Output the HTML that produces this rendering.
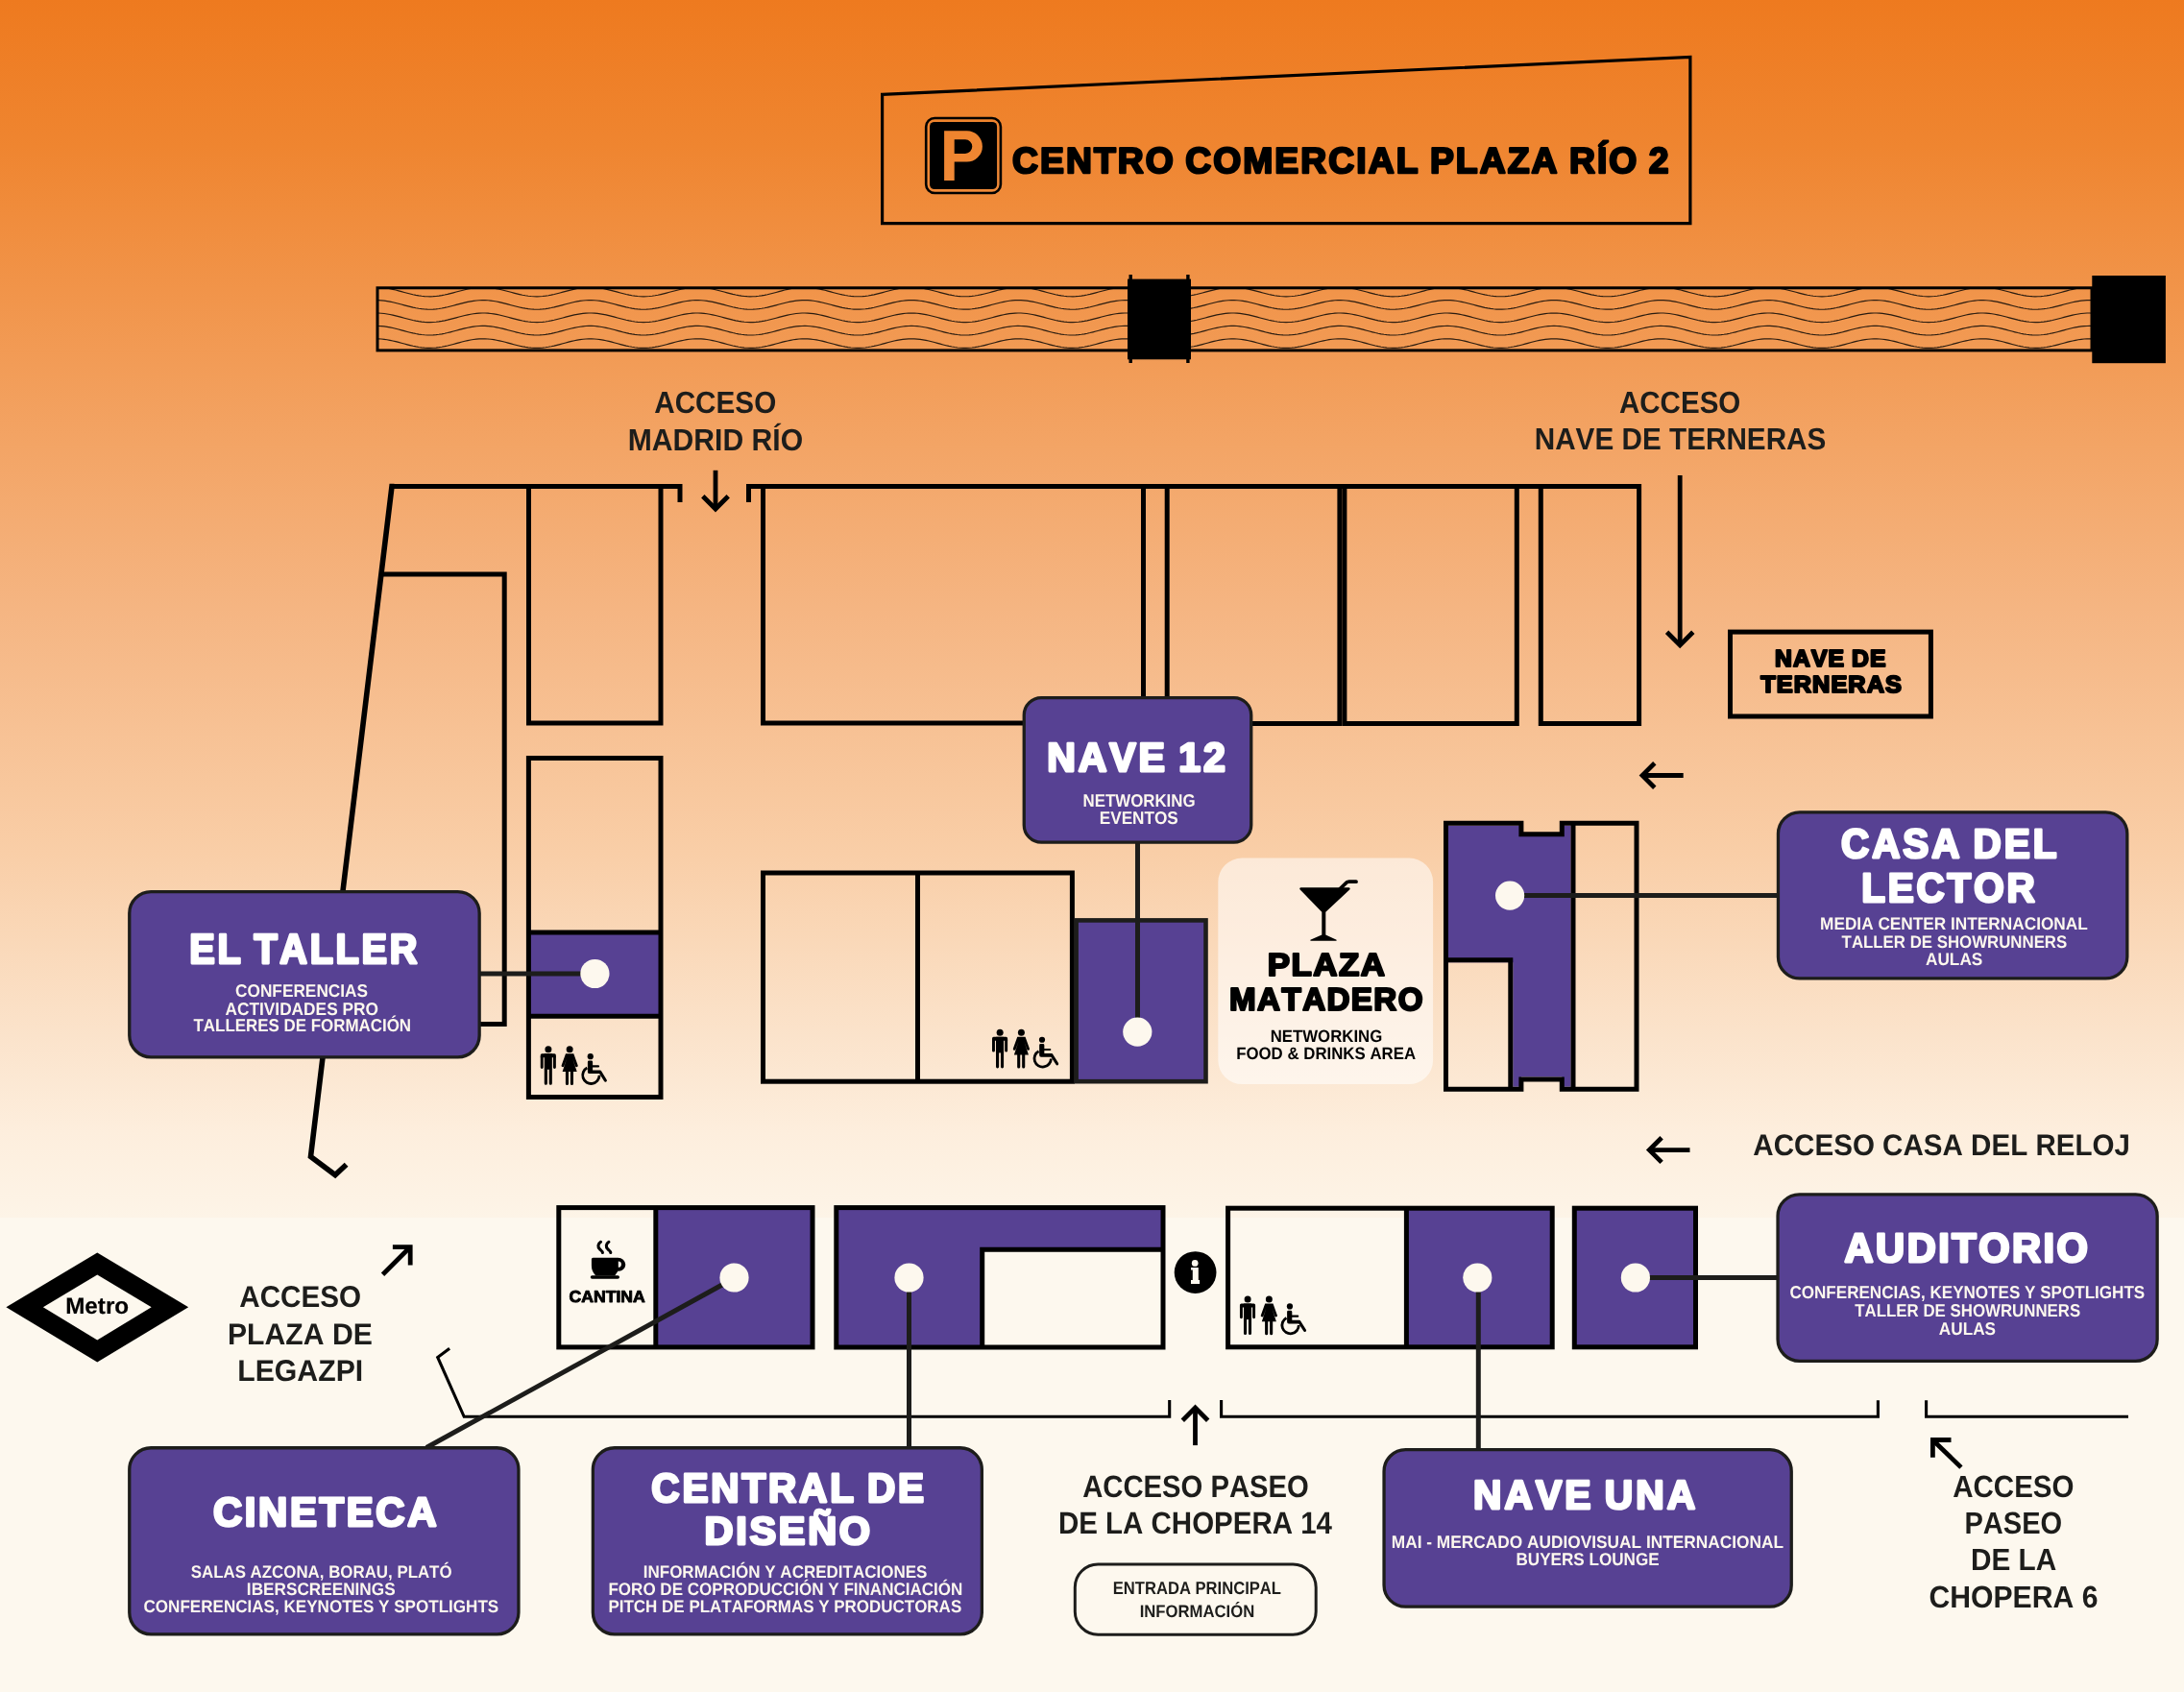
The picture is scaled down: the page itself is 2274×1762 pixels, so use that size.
<!DOCTYPE html>
<html><head><meta charset="utf-8"><title>Mapa Matadero</title>
<style>
html,body{margin:0;padding:0;background:#FDF8EE;}
body{width:2274px;height:1762px;overflow:hidden;}
svg{display:block;will-change:transform;}
text{font-family:"Liberation Sans",sans-serif;font-weight:700;font-kerning:none;text-rendering:geometricPrecision;}
</style></head><body>
<svg width="2274" height="1762" viewBox="0 0 2274 1762">
<defs>
<linearGradient id="bg" gradientUnits="userSpaceOnUse" x1="0" y1="0" x2="0" y2="1268">
<stop offset="0" stop-color="#EE7A1F"/>
<stop offset="0.12" stop-color="#EF8530"/>
<stop offset="0.30" stop-color="#F29C57"/>
<stop offset="0.50" stop-color="#F5B582"/>
<stop offset="0.70" stop-color="#F9CEA7"/>
<stop offset="0.85" stop-color="#FBE3CB"/>
<stop offset="0.93" stop-color="#FDEEDD"/>
<stop offset="1" stop-color="#FDF4E7"/>
</linearGradient>
</defs>
<rect x="0" y="0" width="2274" height="1762" fill="#FDF8EE"/>
<rect x="0" y="0" width="2274" height="1268" fill="url(#bg)"/>

<polygon points="918.6,98.4 1759.9,59.4 1759.9,232.6 918.6,232.6" fill="none" stroke="#000000" stroke-width="3.2" stroke-linejoin="miter"/>
<rect x="964.2" y="123" width="77.7" height="78" rx="9" fill="none" stroke="#000000" stroke-width="2.6"/>
<rect x="968" y="126.9" width="70.1" height="70.2" rx="5" fill="#000000"/>
<path fill="url(#bg)" fill-rule="evenodd" d="M983.1,188 V136.3 H1006.75 A16.15,16.15 0 0 1 1006.75,168.6 H993.7 V188 Z M993.7,145.3 H1005 A7.3,7.3 0 0 1 1005,159.9 H993.7 Z"/>
<text transform="translate(1053.97,179.80) scale(0.9905,1)" font-size="37.65" fill="#000000" stroke="#000000" stroke-width="2.40" stroke-linejoin="round" vector-effect="non-scaling-stroke" letter-spacing="2.091" word-spacing="-2.091">CENTRO COMERCIAL PLAZA RÍO 2</text>
<clipPath id="rc"><rect x="393.0" y="299.8" width="1785.0" height="65.09999999999997"/></clipPath>
<g clip-path="url(#rc)" fill="none" stroke="#2a1c10" stroke-width="1.15">
<polyline points="388.0,299.29 391.0,299.20 394.0,299.25 397.0,299.43 400.0,299.74 403.0,300.17 406.0,300.72 409.0,301.35 412.0,302.06 415.0,302.83 418.0,303.63 421.0,304.44 424.0,305.24 427.0,306.00 430.0,306.71 433.0,307.33 436.0,307.87 439.0,308.29 442.0,308.59 445.0,308.76 448.0,308.80 451.0,308.69 454.0,308.46 457.0,308.09 460.0,307.61 463.0,307.03 466.0,306.36 469.0,305.62 472.0,304.84 475.0,304.03 478.0,303.23 481.0,302.44 484.0,301.70 487.0,301.02 490.0,300.43 493.0,299.94 496.0,299.57 499.0,299.32 502.0,299.21 505.0,299.23 508.0,299.39 511.0,299.68 514.0,300.09 517.0,300.62 520.0,301.24 523.0,301.94 526.0,302.70 529.0,303.49 532.0,304.30 535.0,305.11 538.0,305.88 541.0,306.59 544.0,307.24 547.0,307.79 550.0,308.23 553.0,308.55 556.0,308.74 559.0,308.80 562.0,308.72 565.0,308.51 568.0,308.16 571.0,307.70 574.0,307.13 577.0,306.48 580.0,305.75 583.0,304.97 586.0,304.17 589.0,303.36 592.0,302.57 595.0,301.82 598.0,301.13 601.0,300.52 604.0,300.02 607.0,299.62 610.0,299.35 613.0,299.22 616.0,299.22 619.0,299.35 622.0,299.62 625.0,300.02 628.0,300.52 631.0,301.13 634.0,301.82 637.0,302.57 640.0,303.36 643.0,304.17 646.0,304.97 649.0,305.75 652.0,306.48 655.0,307.13 658.0,307.70 661.0,308.16 664.0,308.51 667.0,308.72 670.0,308.80 673.0,308.74 676.0,308.55 679.0,308.23 682.0,307.79 685.0,307.24 688.0,306.59 691.0,305.88 694.0,305.11 697.0,304.30 700.0,303.49 703.0,302.70 706.0,301.94 709.0,301.24 712.0,300.62 715.0,300.09 718.0,299.68 721.0,299.39 724.0,299.23 727.0,299.21 730.0,299.32 733.0,299.57 736.0,299.94 739.0,300.43 742.0,301.02 745.0,301.70 748.0,302.44 751.0,303.23 754.0,304.03 757.0,304.84 760.0,305.62 763.0,306.36 766.0,307.03 769.0,307.61 772.0,308.09 775.0,308.46 778.0,308.69 781.0,308.80 784.0,308.76 787.0,308.59 790.0,308.29 793.0,307.87 796.0,307.33 799.0,306.71 802.0,306.00 805.0,305.24 808.0,304.44 811.0,303.63 814.0,302.83 817.0,302.06 820.0,301.35 823.0,300.72 826.0,300.17 829.0,299.74 832.0,299.43 835.0,299.25 838.0,299.20 841.0,299.29 844.0,299.52 847.0,299.87 850.0,300.34 853.0,300.92 856.0,301.58 859.0,302.31 862.0,303.09 865.0,303.90 868.0,304.71 871.0,305.50 874.0,306.24 877.0,306.92 880.0,307.52 883.0,308.02 886.0,308.40 889.0,308.66 892.0,308.79 895.0,308.78 898.0,308.63 901.0,308.35 904.0,307.95 907.0,307.43 910.0,306.82 913.0,306.12 916.0,305.37 919.0,304.57 922.0,303.76 925.0,302.96 928.0,302.19 931.0,301.46 934.0,300.82 937.0,300.26 940.0,299.80 943.0,299.47 946.0,299.27 949.0,299.20 952.0,299.27 955.0,299.47 958.0,299.80 961.0,300.26 964.0,300.82 967.0,301.46 970.0,302.19 973.0,302.96 976.0,303.76 979.0,304.57 982.0,305.37 985.0,306.12 988.0,306.82 991.0,307.43 994.0,307.95 997.0,308.35 1000.0,308.63 1003.0,308.78 1006.0,308.79 1009.0,308.66 1012.0,308.40 1015.0,308.02 1018.0,307.52 1021.0,306.92 1024.0,306.24 1027.0,305.50 1030.0,304.71 1033.0,303.90 1036.0,303.09 1039.0,302.31 1042.0,301.58 1045.0,300.92 1048.0,300.34 1051.0,299.87 1054.0,299.52 1057.0,299.29 1060.0,299.20 1063.0,299.25 1066.0,299.43 1069.0,299.74 1072.0,300.17 1075.0,300.72 1078.0,301.35 1081.0,302.06 1084.0,302.83 1087.0,303.63 1090.0,304.44 1093.0,305.24 1096.0,306.00 1099.0,306.71 1102.0,307.33 1105.0,307.87 1108.0,308.29 1111.0,308.59 1114.0,308.76 1117.0,308.80 1120.0,308.69 1123.0,308.46 1126.0,308.09 1129.0,307.61 1132.0,307.03 1135.0,306.36 1138.0,305.62 1141.0,304.84 1144.0,304.03 1147.0,303.23 1150.0,302.44 1153.0,301.70 1156.0,301.02 1159.0,300.43 1162.0,299.94 1165.0,299.57 1168.0,299.32 1171.0,299.21 1174.0,299.23 1177.0,299.39 1180.0,299.68 1183.0,300.09 1186.0,300.62 1189.0,301.24 1192.0,301.94 1195.0,302.70 1198.0,303.49 1201.0,304.30 1204.0,305.11 1207.0,305.88 1210.0,306.59 1213.0,307.24 1216.0,307.79 1219.0,308.23 1222.0,308.55 1225.0,308.74 1228.0,308.80 1231.0,308.72 1234.0,308.51 1237.0,308.16 1240.0,307.70 1243.0,307.13 1246.0,306.48 1249.0,305.75 1252.0,304.97 1255.0,304.17 1258.0,303.36 1261.0,302.57 1264.0,301.82 1267.0,301.13 1270.0,300.52 1273.0,300.02 1276.0,299.62 1279.0,299.35 1282.0,299.22 1285.0,299.22 1288.0,299.35 1291.0,299.62 1294.0,300.02 1297.0,300.52 1300.0,301.13 1303.0,301.82 1306.0,302.57 1309.0,303.36 1312.0,304.17 1315.0,304.97 1318.0,305.75 1321.0,306.48 1324.0,307.13 1327.0,307.70 1330.0,308.16 1333.0,308.51 1336.0,308.72 1339.0,308.80 1342.0,308.74 1345.0,308.55 1348.0,308.23 1351.0,307.79 1354.0,307.24 1357.0,306.59 1360.0,305.88 1363.0,305.11 1366.0,304.30 1369.0,303.49 1372.0,302.70 1375.0,301.94 1378.0,301.24 1381.0,300.62 1384.0,300.09 1387.0,299.68 1390.0,299.39 1393.0,299.23 1396.0,299.21 1399.0,299.32 1402.0,299.57 1405.0,299.94 1408.0,300.43 1411.0,301.02 1414.0,301.70 1417.0,302.44 1420.0,303.23 1423.0,304.03 1426.0,304.84 1429.0,305.62 1432.0,306.36 1435.0,307.03 1438.0,307.61 1441.0,308.09 1444.0,308.46 1447.0,308.69 1450.0,308.80 1453.0,308.76 1456.0,308.59 1459.0,308.29 1462.0,307.87 1465.0,307.33 1468.0,306.71 1471.0,306.00 1474.0,305.24 1477.0,304.44 1480.0,303.63 1483.0,302.83 1486.0,302.06 1489.0,301.35 1492.0,300.72 1495.0,300.17 1498.0,299.74 1501.0,299.43 1504.0,299.25 1507.0,299.20 1510.0,299.29 1513.0,299.52 1516.0,299.87 1519.0,300.34 1522.0,300.92 1525.0,301.58 1528.0,302.31 1531.0,303.09 1534.0,303.90 1537.0,304.71 1540.0,305.50 1543.0,306.24 1546.0,306.92 1549.0,307.52 1552.0,308.02 1555.0,308.40 1558.0,308.66 1561.0,308.79 1564.0,308.78 1567.0,308.63 1570.0,308.35 1573.0,307.95 1576.0,307.43 1579.0,306.82 1582.0,306.12 1585.0,305.37 1588.0,304.57 1591.0,303.76 1594.0,302.96 1597.0,302.19 1600.0,301.46 1603.0,300.82 1606.0,300.26 1609.0,299.80 1612.0,299.47 1615.0,299.27 1618.0,299.20 1621.0,299.27 1624.0,299.47 1627.0,299.80 1630.0,300.26 1633.0,300.82 1636.0,301.46 1639.0,302.19 1642.0,302.96 1645.0,303.76 1648.0,304.57 1651.0,305.37 1654.0,306.12 1657.0,306.82 1660.0,307.43 1663.0,307.95 1666.0,308.35 1669.0,308.63 1672.0,308.78 1675.0,308.79 1678.0,308.66 1681.0,308.40 1684.0,308.02 1687.0,307.52 1690.0,306.92 1693.0,306.24 1696.0,305.50 1699.0,304.71 1702.0,303.90 1705.0,303.09 1708.0,302.31 1711.0,301.58 1714.0,300.92 1717.0,300.34 1720.0,299.87 1723.0,299.52 1726.0,299.29 1729.0,299.20 1732.0,299.25 1735.0,299.43 1738.0,299.74 1741.0,300.17 1744.0,300.72 1747.0,301.35 1750.0,302.06 1753.0,302.83 1756.0,303.63 1759.0,304.44 1762.0,305.24 1765.0,306.00 1768.0,306.71 1771.0,307.33 1774.0,307.87 1777.0,308.29 1780.0,308.59 1783.0,308.76 1786.0,308.80 1789.0,308.69 1792.0,308.46 1795.0,308.09 1798.0,307.61 1801.0,307.03 1804.0,306.36 1807.0,305.62 1810.0,304.84 1813.0,304.03 1816.0,303.23 1819.0,302.44 1822.0,301.70 1825.0,301.02 1828.0,300.43 1831.0,299.94 1834.0,299.57 1837.0,299.32 1840.0,299.21 1843.0,299.23 1846.0,299.39 1849.0,299.68 1852.0,300.09 1855.0,300.62 1858.0,301.24 1861.0,301.94 1864.0,302.70 1867.0,303.49 1870.0,304.30 1873.0,305.11 1876.0,305.88 1879.0,306.59 1882.0,307.24 1885.0,307.79 1888.0,308.23 1891.0,308.55 1894.0,308.74 1897.0,308.80 1900.0,308.72 1903.0,308.51 1906.0,308.16 1909.0,307.70 1912.0,307.13 1915.0,306.48 1918.0,305.75 1921.0,304.97 1924.0,304.17 1927.0,303.36 1930.0,302.57 1933.0,301.82 1936.0,301.13 1939.0,300.52 1942.0,300.02 1945.0,299.62 1948.0,299.35 1951.0,299.22 1954.0,299.22 1957.0,299.35 1960.0,299.62 1963.0,300.02 1966.0,300.52 1969.0,301.13 1972.0,301.82 1975.0,302.57 1978.0,303.36 1981.0,304.17 1984.0,304.97 1987.0,305.75 1990.0,306.48 1993.0,307.13 1996.0,307.70 1999.0,308.16 2002.0,308.51 2005.0,308.72 2008.0,308.80 2011.0,308.74 2014.0,308.55 2017.0,308.23 2020.0,307.79 2023.0,307.24 2026.0,306.59 2029.0,305.88 2032.0,305.11 2035.0,304.30 2038.0,303.49 2041.0,302.70 2044.0,301.94 2047.0,301.24 2050.0,300.62 2053.0,300.09 2056.0,299.68 2059.0,299.39 2062.0,299.23 2065.0,299.21 2068.0,299.32 2071.0,299.57 2074.0,299.94 2077.0,300.43 2080.0,301.02 2083.0,301.70 2086.0,302.44 2089.0,303.23 2092.0,304.03 2095.0,304.84 2098.0,305.62 2101.0,306.36 2104.0,307.03 2107.0,307.61 2110.0,308.09 2113.0,308.46 2116.0,308.69 2119.0,308.80 2122.0,308.76 2125.0,308.59 2128.0,308.29 2131.0,307.87 2134.0,307.33 2137.0,306.71 2140.0,306.00 2143.0,305.24 2146.0,304.44 2149.0,303.63 2152.0,302.83 2155.0,302.06 2158.0,301.35 2161.0,300.72 2164.0,300.17 2167.0,299.74 2170.0,299.43 2173.0,299.25 2176.0,299.20 2179.0,299.29 2182.0,299.52"/>
<polyline points="388.0,312.69 391.0,312.60 394.0,312.65 397.0,312.83 400.0,313.14 403.0,313.57 406.0,314.12 409.0,314.75 412.0,315.46 415.0,316.23 418.0,317.03 421.0,317.84 424.0,318.64 427.0,319.40 430.0,320.11 433.0,320.73 436.0,321.27 439.0,321.69 442.0,321.99 445.0,322.16 448.0,322.20 451.0,322.09 454.0,321.86 457.0,321.49 460.0,321.01 463.0,320.43 466.0,319.76 469.0,319.02 472.0,318.24 475.0,317.43 478.0,316.63 481.0,315.84 484.0,315.10 487.0,314.42 490.0,313.83 493.0,313.34 496.0,312.97 499.0,312.72 502.0,312.61 505.0,312.63 508.0,312.79 511.0,313.08 514.0,313.49 517.0,314.02 520.0,314.64 523.0,315.34 526.0,316.10 529.0,316.89 532.0,317.70 535.0,318.51 538.0,319.28 541.0,319.99 544.0,320.64 547.0,321.19 550.0,321.63 553.0,321.95 556.0,322.14 559.0,322.20 562.0,322.12 565.0,321.91 568.0,321.56 571.0,321.10 574.0,320.53 577.0,319.88 580.0,319.15 583.0,318.37 586.0,317.57 589.0,316.76 592.0,315.97 595.0,315.22 598.0,314.53 601.0,313.92 604.0,313.42 607.0,313.02 610.0,312.75 613.0,312.62 616.0,312.62 619.0,312.75 622.0,313.02 625.0,313.42 628.0,313.92 631.0,314.53 634.0,315.22 637.0,315.97 640.0,316.76 643.0,317.57 646.0,318.37 649.0,319.15 652.0,319.88 655.0,320.53 658.0,321.10 661.0,321.56 664.0,321.91 667.0,322.12 670.0,322.20 673.0,322.14 676.0,321.95 679.0,321.63 682.0,321.19 685.0,320.64 688.0,319.99 691.0,319.28 694.0,318.51 697.0,317.70 700.0,316.89 703.0,316.10 706.0,315.34 709.0,314.64 712.0,314.02 715.0,313.49 718.0,313.08 721.0,312.79 724.0,312.63 727.0,312.61 730.0,312.72 733.0,312.97 736.0,313.34 739.0,313.83 742.0,314.42 745.0,315.10 748.0,315.84 751.0,316.63 754.0,317.43 757.0,318.24 760.0,319.02 763.0,319.76 766.0,320.43 769.0,321.01 772.0,321.49 775.0,321.86 778.0,322.09 781.0,322.20 784.0,322.16 787.0,321.99 790.0,321.69 793.0,321.27 796.0,320.73 799.0,320.11 802.0,319.40 805.0,318.64 808.0,317.84 811.0,317.03 814.0,316.23 817.0,315.46 820.0,314.75 823.0,314.12 826.0,313.57 829.0,313.14 832.0,312.83 835.0,312.65 838.0,312.60 841.0,312.69 844.0,312.92 847.0,313.27 850.0,313.74 853.0,314.32 856.0,314.98 859.0,315.71 862.0,316.49 865.0,317.30 868.0,318.11 871.0,318.90 874.0,319.64 877.0,320.32 880.0,320.92 883.0,321.42 886.0,321.80 889.0,322.06 892.0,322.19 895.0,322.18 898.0,322.03 901.0,321.75 904.0,321.35 907.0,320.83 910.0,320.22 913.0,319.52 916.0,318.77 919.0,317.97 922.0,317.16 925.0,316.36 928.0,315.59 931.0,314.86 934.0,314.22 937.0,313.66 940.0,313.20 943.0,312.87 946.0,312.67 949.0,312.60 952.0,312.67 955.0,312.87 958.0,313.20 961.0,313.66 964.0,314.22 967.0,314.86 970.0,315.59 973.0,316.36 976.0,317.16 979.0,317.97 982.0,318.77 985.0,319.52 988.0,320.22 991.0,320.83 994.0,321.35 997.0,321.75 1000.0,322.03 1003.0,322.18 1006.0,322.19 1009.0,322.06 1012.0,321.80 1015.0,321.42 1018.0,320.92 1021.0,320.32 1024.0,319.64 1027.0,318.90 1030.0,318.11 1033.0,317.30 1036.0,316.49 1039.0,315.71 1042.0,314.98 1045.0,314.32 1048.0,313.74 1051.0,313.27 1054.0,312.92 1057.0,312.69 1060.0,312.60 1063.0,312.65 1066.0,312.83 1069.0,313.14 1072.0,313.57 1075.0,314.12 1078.0,314.75 1081.0,315.46 1084.0,316.23 1087.0,317.03 1090.0,317.84 1093.0,318.64 1096.0,319.40 1099.0,320.11 1102.0,320.73 1105.0,321.27 1108.0,321.69 1111.0,321.99 1114.0,322.16 1117.0,322.20 1120.0,322.09 1123.0,321.86 1126.0,321.49 1129.0,321.01 1132.0,320.43 1135.0,319.76 1138.0,319.02 1141.0,318.24 1144.0,317.43 1147.0,316.63 1150.0,315.84 1153.0,315.10 1156.0,314.42 1159.0,313.83 1162.0,313.34 1165.0,312.97 1168.0,312.72 1171.0,312.61 1174.0,312.63 1177.0,312.79 1180.0,313.08 1183.0,313.49 1186.0,314.02 1189.0,314.64 1192.0,315.34 1195.0,316.10 1198.0,316.89 1201.0,317.70 1204.0,318.51 1207.0,319.28 1210.0,319.99 1213.0,320.64 1216.0,321.19 1219.0,321.63 1222.0,321.95 1225.0,322.14 1228.0,322.20 1231.0,322.12 1234.0,321.91 1237.0,321.56 1240.0,321.10 1243.0,320.53 1246.0,319.88 1249.0,319.15 1252.0,318.37 1255.0,317.57 1258.0,316.76 1261.0,315.97 1264.0,315.22 1267.0,314.53 1270.0,313.92 1273.0,313.42 1276.0,313.02 1279.0,312.75 1282.0,312.62 1285.0,312.62 1288.0,312.75 1291.0,313.02 1294.0,313.42 1297.0,313.92 1300.0,314.53 1303.0,315.22 1306.0,315.97 1309.0,316.76 1312.0,317.57 1315.0,318.37 1318.0,319.15 1321.0,319.88 1324.0,320.53 1327.0,321.10 1330.0,321.56 1333.0,321.91 1336.0,322.12 1339.0,322.20 1342.0,322.14 1345.0,321.95 1348.0,321.63 1351.0,321.19 1354.0,320.64 1357.0,319.99 1360.0,319.28 1363.0,318.51 1366.0,317.70 1369.0,316.89 1372.0,316.10 1375.0,315.34 1378.0,314.64 1381.0,314.02 1384.0,313.49 1387.0,313.08 1390.0,312.79 1393.0,312.63 1396.0,312.61 1399.0,312.72 1402.0,312.97 1405.0,313.34 1408.0,313.83 1411.0,314.42 1414.0,315.10 1417.0,315.84 1420.0,316.63 1423.0,317.43 1426.0,318.24 1429.0,319.02 1432.0,319.76 1435.0,320.43 1438.0,321.01 1441.0,321.49 1444.0,321.86 1447.0,322.09 1450.0,322.20 1453.0,322.16 1456.0,321.99 1459.0,321.69 1462.0,321.27 1465.0,320.73 1468.0,320.11 1471.0,319.40 1474.0,318.64 1477.0,317.84 1480.0,317.03 1483.0,316.23 1486.0,315.46 1489.0,314.75 1492.0,314.12 1495.0,313.57 1498.0,313.14 1501.0,312.83 1504.0,312.65 1507.0,312.60 1510.0,312.69 1513.0,312.92 1516.0,313.27 1519.0,313.74 1522.0,314.32 1525.0,314.98 1528.0,315.71 1531.0,316.49 1534.0,317.30 1537.0,318.11 1540.0,318.90 1543.0,319.64 1546.0,320.32 1549.0,320.92 1552.0,321.42 1555.0,321.80 1558.0,322.06 1561.0,322.19 1564.0,322.18 1567.0,322.03 1570.0,321.75 1573.0,321.35 1576.0,320.83 1579.0,320.22 1582.0,319.52 1585.0,318.77 1588.0,317.97 1591.0,317.16 1594.0,316.36 1597.0,315.59 1600.0,314.86 1603.0,314.22 1606.0,313.66 1609.0,313.20 1612.0,312.87 1615.0,312.67 1618.0,312.60 1621.0,312.67 1624.0,312.87 1627.0,313.20 1630.0,313.66 1633.0,314.22 1636.0,314.86 1639.0,315.59 1642.0,316.36 1645.0,317.16 1648.0,317.97 1651.0,318.77 1654.0,319.52 1657.0,320.22 1660.0,320.83 1663.0,321.35 1666.0,321.75 1669.0,322.03 1672.0,322.18 1675.0,322.19 1678.0,322.06 1681.0,321.80 1684.0,321.42 1687.0,320.92 1690.0,320.32 1693.0,319.64 1696.0,318.90 1699.0,318.11 1702.0,317.30 1705.0,316.49 1708.0,315.71 1711.0,314.98 1714.0,314.32 1717.0,313.74 1720.0,313.27 1723.0,312.92 1726.0,312.69 1729.0,312.60 1732.0,312.65 1735.0,312.83 1738.0,313.14 1741.0,313.57 1744.0,314.12 1747.0,314.75 1750.0,315.46 1753.0,316.23 1756.0,317.03 1759.0,317.84 1762.0,318.64 1765.0,319.40 1768.0,320.11 1771.0,320.73 1774.0,321.27 1777.0,321.69 1780.0,321.99 1783.0,322.16 1786.0,322.20 1789.0,322.09 1792.0,321.86 1795.0,321.49 1798.0,321.01 1801.0,320.43 1804.0,319.76 1807.0,319.02 1810.0,318.24 1813.0,317.43 1816.0,316.63 1819.0,315.84 1822.0,315.10 1825.0,314.42 1828.0,313.83 1831.0,313.34 1834.0,312.97 1837.0,312.72 1840.0,312.61 1843.0,312.63 1846.0,312.79 1849.0,313.08 1852.0,313.49 1855.0,314.02 1858.0,314.64 1861.0,315.34 1864.0,316.10 1867.0,316.89 1870.0,317.70 1873.0,318.51 1876.0,319.28 1879.0,319.99 1882.0,320.64 1885.0,321.19 1888.0,321.63 1891.0,321.95 1894.0,322.14 1897.0,322.20 1900.0,322.12 1903.0,321.91 1906.0,321.56 1909.0,321.10 1912.0,320.53 1915.0,319.88 1918.0,319.15 1921.0,318.37 1924.0,317.57 1927.0,316.76 1930.0,315.97 1933.0,315.22 1936.0,314.53 1939.0,313.92 1942.0,313.42 1945.0,313.02 1948.0,312.75 1951.0,312.62 1954.0,312.62 1957.0,312.75 1960.0,313.02 1963.0,313.42 1966.0,313.92 1969.0,314.53 1972.0,315.22 1975.0,315.97 1978.0,316.76 1981.0,317.57 1984.0,318.37 1987.0,319.15 1990.0,319.88 1993.0,320.53 1996.0,321.10 1999.0,321.56 2002.0,321.91 2005.0,322.12 2008.0,322.20 2011.0,322.14 2014.0,321.95 2017.0,321.63 2020.0,321.19 2023.0,320.64 2026.0,319.99 2029.0,319.28 2032.0,318.51 2035.0,317.70 2038.0,316.89 2041.0,316.10 2044.0,315.34 2047.0,314.64 2050.0,314.02 2053.0,313.49 2056.0,313.08 2059.0,312.79 2062.0,312.63 2065.0,312.61 2068.0,312.72 2071.0,312.97 2074.0,313.34 2077.0,313.83 2080.0,314.42 2083.0,315.10 2086.0,315.84 2089.0,316.63 2092.0,317.43 2095.0,318.24 2098.0,319.02 2101.0,319.76 2104.0,320.43 2107.0,321.01 2110.0,321.49 2113.0,321.86 2116.0,322.09 2119.0,322.20 2122.0,322.16 2125.0,321.99 2128.0,321.69 2131.0,321.27 2134.0,320.73 2137.0,320.11 2140.0,319.40 2143.0,318.64 2146.0,317.84 2149.0,317.03 2152.0,316.23 2155.0,315.46 2158.0,314.75 2161.0,314.12 2164.0,313.57 2167.0,313.14 2170.0,312.83 2173.0,312.65 2176.0,312.60 2179.0,312.69 2182.0,312.92"/>
<polyline points="388.0,326.09 391.0,326.00 394.0,326.05 397.0,326.23 400.0,326.54 403.0,326.97 406.0,327.52 409.0,328.15 412.0,328.86 415.0,329.63 418.0,330.43 421.0,331.24 424.0,332.04 427.0,332.80 430.0,333.51 433.0,334.13 436.0,334.67 439.0,335.09 442.0,335.39 445.0,335.56 448.0,335.60 451.0,335.49 454.0,335.26 457.0,334.89 460.0,334.41 463.0,333.83 466.0,333.16 469.0,332.42 472.0,331.64 475.0,330.83 478.0,330.03 481.0,329.24 484.0,328.50 487.0,327.82 490.0,327.23 493.0,326.74 496.0,326.37 499.0,326.12 502.0,326.01 505.0,326.03 508.0,326.19 511.0,326.48 514.0,326.89 517.0,327.42 520.0,328.04 523.0,328.74 526.0,329.50 529.0,330.29 532.0,331.10 535.0,331.91 538.0,332.68 541.0,333.39 544.0,334.04 547.0,334.59 550.0,335.03 553.0,335.35 556.0,335.54 559.0,335.60 562.0,335.52 565.0,335.31 568.0,334.96 571.0,334.50 574.0,333.93 577.0,333.28 580.0,332.55 583.0,331.77 586.0,330.97 589.0,330.16 592.0,329.37 595.0,328.62 598.0,327.93 601.0,327.32 604.0,326.82 607.0,326.42 610.0,326.15 613.0,326.02 616.0,326.02 619.0,326.15 622.0,326.42 625.0,326.82 628.0,327.32 631.0,327.93 634.0,328.62 637.0,329.37 640.0,330.16 643.0,330.97 646.0,331.77 649.0,332.55 652.0,333.28 655.0,333.93 658.0,334.50 661.0,334.96 664.0,335.31 667.0,335.52 670.0,335.60 673.0,335.54 676.0,335.35 679.0,335.03 682.0,334.59 685.0,334.04 688.0,333.39 691.0,332.68 694.0,331.91 697.0,331.10 700.0,330.29 703.0,329.50 706.0,328.74 709.0,328.04 712.0,327.42 715.0,326.89 718.0,326.48 721.0,326.19 724.0,326.03 727.0,326.01 730.0,326.12 733.0,326.37 736.0,326.74 739.0,327.23 742.0,327.82 745.0,328.50 748.0,329.24 751.0,330.03 754.0,330.83 757.0,331.64 760.0,332.42 763.0,333.16 766.0,333.83 769.0,334.41 772.0,334.89 775.0,335.26 778.0,335.49 781.0,335.60 784.0,335.56 787.0,335.39 790.0,335.09 793.0,334.67 796.0,334.13 799.0,333.51 802.0,332.80 805.0,332.04 808.0,331.24 811.0,330.43 814.0,329.63 817.0,328.86 820.0,328.15 823.0,327.52 826.0,326.97 829.0,326.54 832.0,326.23 835.0,326.05 838.0,326.00 841.0,326.09 844.0,326.32 847.0,326.67 850.0,327.14 853.0,327.72 856.0,328.38 859.0,329.11 862.0,329.89 865.0,330.70 868.0,331.51 871.0,332.30 874.0,333.04 877.0,333.72 880.0,334.32 883.0,334.82 886.0,335.20 889.0,335.46 892.0,335.59 895.0,335.58 898.0,335.43 901.0,335.15 904.0,334.75 907.0,334.23 910.0,333.62 913.0,332.92 916.0,332.17 919.0,331.37 922.0,330.56 925.0,329.76 928.0,328.99 931.0,328.26 934.0,327.62 937.0,327.06 940.0,326.60 943.0,326.27 946.0,326.07 949.0,326.00 952.0,326.07 955.0,326.27 958.0,326.60 961.0,327.06 964.0,327.62 967.0,328.26 970.0,328.99 973.0,329.76 976.0,330.56 979.0,331.37 982.0,332.17 985.0,332.92 988.0,333.62 991.0,334.23 994.0,334.75 997.0,335.15 1000.0,335.43 1003.0,335.58 1006.0,335.59 1009.0,335.46 1012.0,335.20 1015.0,334.82 1018.0,334.32 1021.0,333.72 1024.0,333.04 1027.0,332.30 1030.0,331.51 1033.0,330.70 1036.0,329.89 1039.0,329.11 1042.0,328.38 1045.0,327.72 1048.0,327.14 1051.0,326.67 1054.0,326.32 1057.0,326.09 1060.0,326.00 1063.0,326.05 1066.0,326.23 1069.0,326.54 1072.0,326.97 1075.0,327.52 1078.0,328.15 1081.0,328.86 1084.0,329.63 1087.0,330.43 1090.0,331.24 1093.0,332.04 1096.0,332.80 1099.0,333.51 1102.0,334.13 1105.0,334.67 1108.0,335.09 1111.0,335.39 1114.0,335.56 1117.0,335.60 1120.0,335.49 1123.0,335.26 1126.0,334.89 1129.0,334.41 1132.0,333.83 1135.0,333.16 1138.0,332.42 1141.0,331.64 1144.0,330.83 1147.0,330.03 1150.0,329.24 1153.0,328.50 1156.0,327.82 1159.0,327.23 1162.0,326.74 1165.0,326.37 1168.0,326.12 1171.0,326.01 1174.0,326.03 1177.0,326.19 1180.0,326.48 1183.0,326.89 1186.0,327.42 1189.0,328.04 1192.0,328.74 1195.0,329.50 1198.0,330.29 1201.0,331.10 1204.0,331.91 1207.0,332.68 1210.0,333.39 1213.0,334.04 1216.0,334.59 1219.0,335.03 1222.0,335.35 1225.0,335.54 1228.0,335.60 1231.0,335.52 1234.0,335.31 1237.0,334.96 1240.0,334.50 1243.0,333.93 1246.0,333.28 1249.0,332.55 1252.0,331.77 1255.0,330.97 1258.0,330.16 1261.0,329.37 1264.0,328.62 1267.0,327.93 1270.0,327.32 1273.0,326.82 1276.0,326.42 1279.0,326.15 1282.0,326.02 1285.0,326.02 1288.0,326.15 1291.0,326.42 1294.0,326.82 1297.0,327.32 1300.0,327.93 1303.0,328.62 1306.0,329.37 1309.0,330.16 1312.0,330.97 1315.0,331.77 1318.0,332.55 1321.0,333.28 1324.0,333.93 1327.0,334.50 1330.0,334.96 1333.0,335.31 1336.0,335.52 1339.0,335.60 1342.0,335.54 1345.0,335.35 1348.0,335.03 1351.0,334.59 1354.0,334.04 1357.0,333.39 1360.0,332.68 1363.0,331.91 1366.0,331.10 1369.0,330.29 1372.0,329.50 1375.0,328.74 1378.0,328.04 1381.0,327.42 1384.0,326.89 1387.0,326.48 1390.0,326.19 1393.0,326.03 1396.0,326.01 1399.0,326.12 1402.0,326.37 1405.0,326.74 1408.0,327.23 1411.0,327.82 1414.0,328.50 1417.0,329.24 1420.0,330.03 1423.0,330.83 1426.0,331.64 1429.0,332.42 1432.0,333.16 1435.0,333.83 1438.0,334.41 1441.0,334.89 1444.0,335.26 1447.0,335.49 1450.0,335.60 1453.0,335.56 1456.0,335.39 1459.0,335.09 1462.0,334.67 1465.0,334.13 1468.0,333.51 1471.0,332.80 1474.0,332.04 1477.0,331.24 1480.0,330.43 1483.0,329.63 1486.0,328.86 1489.0,328.15 1492.0,327.52 1495.0,326.97 1498.0,326.54 1501.0,326.23 1504.0,326.05 1507.0,326.00 1510.0,326.09 1513.0,326.32 1516.0,326.67 1519.0,327.14 1522.0,327.72 1525.0,328.38 1528.0,329.11 1531.0,329.89 1534.0,330.70 1537.0,331.51 1540.0,332.30 1543.0,333.04 1546.0,333.72 1549.0,334.32 1552.0,334.82 1555.0,335.20 1558.0,335.46 1561.0,335.59 1564.0,335.58 1567.0,335.43 1570.0,335.15 1573.0,334.75 1576.0,334.23 1579.0,333.62 1582.0,332.92 1585.0,332.17 1588.0,331.37 1591.0,330.56 1594.0,329.76 1597.0,328.99 1600.0,328.26 1603.0,327.62 1606.0,327.06 1609.0,326.60 1612.0,326.27 1615.0,326.07 1618.0,326.00 1621.0,326.07 1624.0,326.27 1627.0,326.60 1630.0,327.06 1633.0,327.62 1636.0,328.26 1639.0,328.99 1642.0,329.76 1645.0,330.56 1648.0,331.37 1651.0,332.17 1654.0,332.92 1657.0,333.62 1660.0,334.23 1663.0,334.75 1666.0,335.15 1669.0,335.43 1672.0,335.58 1675.0,335.59 1678.0,335.46 1681.0,335.20 1684.0,334.82 1687.0,334.32 1690.0,333.72 1693.0,333.04 1696.0,332.30 1699.0,331.51 1702.0,330.70 1705.0,329.89 1708.0,329.11 1711.0,328.38 1714.0,327.72 1717.0,327.14 1720.0,326.67 1723.0,326.32 1726.0,326.09 1729.0,326.00 1732.0,326.05 1735.0,326.23 1738.0,326.54 1741.0,326.97 1744.0,327.52 1747.0,328.15 1750.0,328.86 1753.0,329.63 1756.0,330.43 1759.0,331.24 1762.0,332.04 1765.0,332.80 1768.0,333.51 1771.0,334.13 1774.0,334.67 1777.0,335.09 1780.0,335.39 1783.0,335.56 1786.0,335.60 1789.0,335.49 1792.0,335.26 1795.0,334.89 1798.0,334.41 1801.0,333.83 1804.0,333.16 1807.0,332.42 1810.0,331.64 1813.0,330.83 1816.0,330.03 1819.0,329.24 1822.0,328.50 1825.0,327.82 1828.0,327.23 1831.0,326.74 1834.0,326.37 1837.0,326.12 1840.0,326.01 1843.0,326.03 1846.0,326.19 1849.0,326.48 1852.0,326.89 1855.0,327.42 1858.0,328.04 1861.0,328.74 1864.0,329.50 1867.0,330.29 1870.0,331.10 1873.0,331.91 1876.0,332.68 1879.0,333.39 1882.0,334.04 1885.0,334.59 1888.0,335.03 1891.0,335.35 1894.0,335.54 1897.0,335.60 1900.0,335.52 1903.0,335.31 1906.0,334.96 1909.0,334.50 1912.0,333.93 1915.0,333.28 1918.0,332.55 1921.0,331.77 1924.0,330.97 1927.0,330.16 1930.0,329.37 1933.0,328.62 1936.0,327.93 1939.0,327.32 1942.0,326.82 1945.0,326.42 1948.0,326.15 1951.0,326.02 1954.0,326.02 1957.0,326.15 1960.0,326.42 1963.0,326.82 1966.0,327.32 1969.0,327.93 1972.0,328.62 1975.0,329.37 1978.0,330.16 1981.0,330.97 1984.0,331.77 1987.0,332.55 1990.0,333.28 1993.0,333.93 1996.0,334.50 1999.0,334.96 2002.0,335.31 2005.0,335.52 2008.0,335.60 2011.0,335.54 2014.0,335.35 2017.0,335.03 2020.0,334.59 2023.0,334.04 2026.0,333.39 2029.0,332.68 2032.0,331.91 2035.0,331.10 2038.0,330.29 2041.0,329.50 2044.0,328.74 2047.0,328.04 2050.0,327.42 2053.0,326.89 2056.0,326.48 2059.0,326.19 2062.0,326.03 2065.0,326.01 2068.0,326.12 2071.0,326.37 2074.0,326.74 2077.0,327.23 2080.0,327.82 2083.0,328.50 2086.0,329.24 2089.0,330.03 2092.0,330.83 2095.0,331.64 2098.0,332.42 2101.0,333.16 2104.0,333.83 2107.0,334.41 2110.0,334.89 2113.0,335.26 2116.0,335.49 2119.0,335.60 2122.0,335.56 2125.0,335.39 2128.0,335.09 2131.0,334.67 2134.0,334.13 2137.0,333.51 2140.0,332.80 2143.0,332.04 2146.0,331.24 2149.0,330.43 2152.0,329.63 2155.0,328.86 2158.0,328.15 2161.0,327.52 2164.0,326.97 2167.0,326.54 2170.0,326.23 2173.0,326.05 2176.0,326.00 2179.0,326.09 2182.0,326.32"/>
<polyline points="388.0,339.49 391.0,339.40 394.0,339.45 397.0,339.63 400.0,339.94 403.0,340.37 406.0,340.92 409.0,341.55 412.0,342.26 415.0,343.03 418.0,343.83 421.0,344.64 424.0,345.44 427.0,346.20 430.0,346.91 433.0,347.53 436.0,348.07 439.0,348.49 442.0,348.79 445.0,348.96 448.0,349.00 451.0,348.89 454.0,348.66 457.0,348.29 460.0,347.81 463.0,347.23 466.0,346.56 469.0,345.82 472.0,345.04 475.0,344.23 478.0,343.43 481.0,342.64 484.0,341.90 487.0,341.22 490.0,340.63 493.0,340.14 496.0,339.77 499.0,339.52 502.0,339.41 505.0,339.43 508.0,339.59 511.0,339.88 514.0,340.29 517.0,340.82 520.0,341.44 523.0,342.14 526.0,342.90 529.0,343.69 532.0,344.50 535.0,345.31 538.0,346.08 541.0,346.79 544.0,347.44 547.0,347.99 550.0,348.43 553.0,348.75 556.0,348.94 559.0,349.00 562.0,348.92 565.0,348.71 568.0,348.36 571.0,347.90 574.0,347.33 577.0,346.68 580.0,345.95 583.0,345.17 586.0,344.37 589.0,343.56 592.0,342.77 595.0,342.02 598.0,341.33 601.0,340.72 604.0,340.22 607.0,339.82 610.0,339.55 613.0,339.42 616.0,339.42 619.0,339.55 622.0,339.82 625.0,340.22 628.0,340.72 631.0,341.33 634.0,342.02 637.0,342.77 640.0,343.56 643.0,344.37 646.0,345.17 649.0,345.95 652.0,346.68 655.0,347.33 658.0,347.90 661.0,348.36 664.0,348.71 667.0,348.92 670.0,349.00 673.0,348.94 676.0,348.75 679.0,348.43 682.0,347.99 685.0,347.44 688.0,346.79 691.0,346.08 694.0,345.31 697.0,344.50 700.0,343.69 703.0,342.90 706.0,342.14 709.0,341.44 712.0,340.82 715.0,340.29 718.0,339.88 721.0,339.59 724.0,339.43 727.0,339.41 730.0,339.52 733.0,339.77 736.0,340.14 739.0,340.63 742.0,341.22 745.0,341.90 748.0,342.64 751.0,343.43 754.0,344.23 757.0,345.04 760.0,345.82 763.0,346.56 766.0,347.23 769.0,347.81 772.0,348.29 775.0,348.66 778.0,348.89 781.0,349.00 784.0,348.96 787.0,348.79 790.0,348.49 793.0,348.07 796.0,347.53 799.0,346.91 802.0,346.20 805.0,345.44 808.0,344.64 811.0,343.83 814.0,343.03 817.0,342.26 820.0,341.55 823.0,340.92 826.0,340.37 829.0,339.94 832.0,339.63 835.0,339.45 838.0,339.40 841.0,339.49 844.0,339.72 847.0,340.07 850.0,340.54 853.0,341.12 856.0,341.78 859.0,342.51 862.0,343.29 865.0,344.10 868.0,344.91 871.0,345.70 874.0,346.44 877.0,347.12 880.0,347.72 883.0,348.22 886.0,348.60 889.0,348.86 892.0,348.99 895.0,348.98 898.0,348.83 901.0,348.55 904.0,348.15 907.0,347.63 910.0,347.02 913.0,346.32 916.0,345.57 919.0,344.77 922.0,343.96 925.0,343.16 928.0,342.39 931.0,341.66 934.0,341.02 937.0,340.46 940.0,340.00 943.0,339.67 946.0,339.47 949.0,339.40 952.0,339.47 955.0,339.67 958.0,340.00 961.0,340.46 964.0,341.02 967.0,341.66 970.0,342.39 973.0,343.16 976.0,343.96 979.0,344.77 982.0,345.57 985.0,346.32 988.0,347.02 991.0,347.63 994.0,348.15 997.0,348.55 1000.0,348.83 1003.0,348.98 1006.0,348.99 1009.0,348.86 1012.0,348.60 1015.0,348.22 1018.0,347.72 1021.0,347.12 1024.0,346.44 1027.0,345.70 1030.0,344.91 1033.0,344.10 1036.0,343.29 1039.0,342.51 1042.0,341.78 1045.0,341.12 1048.0,340.54 1051.0,340.07 1054.0,339.72 1057.0,339.49 1060.0,339.40 1063.0,339.45 1066.0,339.63 1069.0,339.94 1072.0,340.37 1075.0,340.92 1078.0,341.55 1081.0,342.26 1084.0,343.03 1087.0,343.83 1090.0,344.64 1093.0,345.44 1096.0,346.20 1099.0,346.91 1102.0,347.53 1105.0,348.07 1108.0,348.49 1111.0,348.79 1114.0,348.96 1117.0,349.00 1120.0,348.89 1123.0,348.66 1126.0,348.29 1129.0,347.81 1132.0,347.23 1135.0,346.56 1138.0,345.82 1141.0,345.04 1144.0,344.23 1147.0,343.43 1150.0,342.64 1153.0,341.90 1156.0,341.22 1159.0,340.63 1162.0,340.14 1165.0,339.77 1168.0,339.52 1171.0,339.41 1174.0,339.43 1177.0,339.59 1180.0,339.88 1183.0,340.29 1186.0,340.82 1189.0,341.44 1192.0,342.14 1195.0,342.90 1198.0,343.69 1201.0,344.50 1204.0,345.31 1207.0,346.08 1210.0,346.79 1213.0,347.44 1216.0,347.99 1219.0,348.43 1222.0,348.75 1225.0,348.94 1228.0,349.00 1231.0,348.92 1234.0,348.71 1237.0,348.36 1240.0,347.90 1243.0,347.33 1246.0,346.68 1249.0,345.95 1252.0,345.17 1255.0,344.37 1258.0,343.56 1261.0,342.77 1264.0,342.02 1267.0,341.33 1270.0,340.72 1273.0,340.22 1276.0,339.82 1279.0,339.55 1282.0,339.42 1285.0,339.42 1288.0,339.55 1291.0,339.82 1294.0,340.22 1297.0,340.72 1300.0,341.33 1303.0,342.02 1306.0,342.77 1309.0,343.56 1312.0,344.37 1315.0,345.17 1318.0,345.95 1321.0,346.68 1324.0,347.33 1327.0,347.90 1330.0,348.36 1333.0,348.71 1336.0,348.92 1339.0,349.00 1342.0,348.94 1345.0,348.75 1348.0,348.43 1351.0,347.99 1354.0,347.44 1357.0,346.79 1360.0,346.08 1363.0,345.31 1366.0,344.50 1369.0,343.69 1372.0,342.90 1375.0,342.14 1378.0,341.44 1381.0,340.82 1384.0,340.29 1387.0,339.88 1390.0,339.59 1393.0,339.43 1396.0,339.41 1399.0,339.52 1402.0,339.77 1405.0,340.14 1408.0,340.63 1411.0,341.22 1414.0,341.90 1417.0,342.64 1420.0,343.43 1423.0,344.23 1426.0,345.04 1429.0,345.82 1432.0,346.56 1435.0,347.23 1438.0,347.81 1441.0,348.29 1444.0,348.66 1447.0,348.89 1450.0,349.00 1453.0,348.96 1456.0,348.79 1459.0,348.49 1462.0,348.07 1465.0,347.53 1468.0,346.91 1471.0,346.20 1474.0,345.44 1477.0,344.64 1480.0,343.83 1483.0,343.03 1486.0,342.26 1489.0,341.55 1492.0,340.92 1495.0,340.37 1498.0,339.94 1501.0,339.63 1504.0,339.45 1507.0,339.40 1510.0,339.49 1513.0,339.72 1516.0,340.07 1519.0,340.54 1522.0,341.12 1525.0,341.78 1528.0,342.51 1531.0,343.29 1534.0,344.10 1537.0,344.91 1540.0,345.70 1543.0,346.44 1546.0,347.12 1549.0,347.72 1552.0,348.22 1555.0,348.60 1558.0,348.86 1561.0,348.99 1564.0,348.98 1567.0,348.83 1570.0,348.55 1573.0,348.15 1576.0,347.63 1579.0,347.02 1582.0,346.32 1585.0,345.57 1588.0,344.77 1591.0,343.96 1594.0,343.16 1597.0,342.39 1600.0,341.66 1603.0,341.02 1606.0,340.46 1609.0,340.00 1612.0,339.67 1615.0,339.47 1618.0,339.40 1621.0,339.47 1624.0,339.67 1627.0,340.00 1630.0,340.46 1633.0,341.02 1636.0,341.66 1639.0,342.39 1642.0,343.16 1645.0,343.96 1648.0,344.77 1651.0,345.57 1654.0,346.32 1657.0,347.02 1660.0,347.63 1663.0,348.15 1666.0,348.55 1669.0,348.83 1672.0,348.98 1675.0,348.99 1678.0,348.86 1681.0,348.60 1684.0,348.22 1687.0,347.72 1690.0,347.12 1693.0,346.44 1696.0,345.70 1699.0,344.91 1702.0,344.10 1705.0,343.29 1708.0,342.51 1711.0,341.78 1714.0,341.12 1717.0,340.54 1720.0,340.07 1723.0,339.72 1726.0,339.49 1729.0,339.40 1732.0,339.45 1735.0,339.63 1738.0,339.94 1741.0,340.37 1744.0,340.92 1747.0,341.55 1750.0,342.26 1753.0,343.03 1756.0,343.83 1759.0,344.64 1762.0,345.44 1765.0,346.20 1768.0,346.91 1771.0,347.53 1774.0,348.07 1777.0,348.49 1780.0,348.79 1783.0,348.96 1786.0,349.00 1789.0,348.89 1792.0,348.66 1795.0,348.29 1798.0,347.81 1801.0,347.23 1804.0,346.56 1807.0,345.82 1810.0,345.04 1813.0,344.23 1816.0,343.43 1819.0,342.64 1822.0,341.90 1825.0,341.22 1828.0,340.63 1831.0,340.14 1834.0,339.77 1837.0,339.52 1840.0,339.41 1843.0,339.43 1846.0,339.59 1849.0,339.88 1852.0,340.29 1855.0,340.82 1858.0,341.44 1861.0,342.14 1864.0,342.90 1867.0,343.69 1870.0,344.50 1873.0,345.31 1876.0,346.08 1879.0,346.79 1882.0,347.44 1885.0,347.99 1888.0,348.43 1891.0,348.75 1894.0,348.94 1897.0,349.00 1900.0,348.92 1903.0,348.71 1906.0,348.36 1909.0,347.90 1912.0,347.33 1915.0,346.68 1918.0,345.95 1921.0,345.17 1924.0,344.37 1927.0,343.56 1930.0,342.77 1933.0,342.02 1936.0,341.33 1939.0,340.72 1942.0,340.22 1945.0,339.82 1948.0,339.55 1951.0,339.42 1954.0,339.42 1957.0,339.55 1960.0,339.82 1963.0,340.22 1966.0,340.72 1969.0,341.33 1972.0,342.02 1975.0,342.77 1978.0,343.56 1981.0,344.37 1984.0,345.17 1987.0,345.95 1990.0,346.68 1993.0,347.33 1996.0,347.90 1999.0,348.36 2002.0,348.71 2005.0,348.92 2008.0,349.00 2011.0,348.94 2014.0,348.75 2017.0,348.43 2020.0,347.99 2023.0,347.44 2026.0,346.79 2029.0,346.08 2032.0,345.31 2035.0,344.50 2038.0,343.69 2041.0,342.90 2044.0,342.14 2047.0,341.44 2050.0,340.82 2053.0,340.29 2056.0,339.88 2059.0,339.59 2062.0,339.43 2065.0,339.41 2068.0,339.52 2071.0,339.77 2074.0,340.14 2077.0,340.63 2080.0,341.22 2083.0,341.90 2086.0,342.64 2089.0,343.43 2092.0,344.23 2095.0,345.04 2098.0,345.82 2101.0,346.56 2104.0,347.23 2107.0,347.81 2110.0,348.29 2113.0,348.66 2116.0,348.89 2119.0,349.00 2122.0,348.96 2125.0,348.79 2128.0,348.49 2131.0,348.07 2134.0,347.53 2137.0,346.91 2140.0,346.20 2143.0,345.44 2146.0,344.64 2149.0,343.83 2152.0,343.03 2155.0,342.26 2158.0,341.55 2161.0,340.92 2164.0,340.37 2167.0,339.94 2170.0,339.63 2173.0,339.45 2176.0,339.40 2179.0,339.49 2182.0,339.72"/>
<polyline points="388.0,352.89 391.0,352.80 394.0,352.85 397.0,353.03 400.0,353.34 403.0,353.77 406.0,354.32 409.0,354.95 412.0,355.66 415.0,356.43 418.0,357.23 421.0,358.04 424.0,358.84 427.0,359.60 430.0,360.31 433.0,360.93 436.0,361.47 439.0,361.89 442.0,362.19 445.0,362.36 448.0,362.40 451.0,362.29 454.0,362.06 457.0,361.69 460.0,361.21 463.0,360.63 466.0,359.96 469.0,359.22 472.0,358.44 475.0,357.63 478.0,356.83 481.0,356.04 484.0,355.30 487.0,354.62 490.0,354.03 493.0,353.54 496.0,353.17 499.0,352.92 502.0,352.81 505.0,352.83 508.0,352.99 511.0,353.28 514.0,353.69 517.0,354.22 520.0,354.84 523.0,355.54 526.0,356.30 529.0,357.09 532.0,357.90 535.0,358.71 538.0,359.48 541.0,360.19 544.0,360.84 547.0,361.39 550.0,361.83 553.0,362.15 556.0,362.34 559.0,362.40 562.0,362.32 565.0,362.11 568.0,361.76 571.0,361.30 574.0,360.73 577.0,360.08 580.0,359.35 583.0,358.57 586.0,357.77 589.0,356.96 592.0,356.17 595.0,355.42 598.0,354.73 601.0,354.12 604.0,353.62 607.0,353.22 610.0,352.95 613.0,352.82 616.0,352.82 619.0,352.95 622.0,353.22 625.0,353.62 628.0,354.12 631.0,354.73 634.0,355.42 637.0,356.17 640.0,356.96 643.0,357.77 646.0,358.57 649.0,359.35 652.0,360.08 655.0,360.73 658.0,361.30 661.0,361.76 664.0,362.11 667.0,362.32 670.0,362.40 673.0,362.34 676.0,362.15 679.0,361.83 682.0,361.39 685.0,360.84 688.0,360.19 691.0,359.48 694.0,358.71 697.0,357.90 700.0,357.09 703.0,356.30 706.0,355.54 709.0,354.84 712.0,354.22 715.0,353.69 718.0,353.28 721.0,352.99 724.0,352.83 727.0,352.81 730.0,352.92 733.0,353.17 736.0,353.54 739.0,354.03 742.0,354.62 745.0,355.30 748.0,356.04 751.0,356.83 754.0,357.63 757.0,358.44 760.0,359.22 763.0,359.96 766.0,360.63 769.0,361.21 772.0,361.69 775.0,362.06 778.0,362.29 781.0,362.40 784.0,362.36 787.0,362.19 790.0,361.89 793.0,361.47 796.0,360.93 799.0,360.31 802.0,359.60 805.0,358.84 808.0,358.04 811.0,357.23 814.0,356.43 817.0,355.66 820.0,354.95 823.0,354.32 826.0,353.77 829.0,353.34 832.0,353.03 835.0,352.85 838.0,352.80 841.0,352.89 844.0,353.12 847.0,353.47 850.0,353.94 853.0,354.52 856.0,355.18 859.0,355.91 862.0,356.69 865.0,357.50 868.0,358.31 871.0,359.10 874.0,359.84 877.0,360.52 880.0,361.12 883.0,361.62 886.0,362.00 889.0,362.26 892.0,362.39 895.0,362.38 898.0,362.23 901.0,361.95 904.0,361.55 907.0,361.03 910.0,360.42 913.0,359.72 916.0,358.97 919.0,358.17 922.0,357.36 925.0,356.56 928.0,355.79 931.0,355.06 934.0,354.42 937.0,353.86 940.0,353.40 943.0,353.07 946.0,352.87 949.0,352.80 952.0,352.87 955.0,353.07 958.0,353.40 961.0,353.86 964.0,354.42 967.0,355.06 970.0,355.79 973.0,356.56 976.0,357.36 979.0,358.17 982.0,358.97 985.0,359.72 988.0,360.42 991.0,361.03 994.0,361.55 997.0,361.95 1000.0,362.23 1003.0,362.38 1006.0,362.39 1009.0,362.26 1012.0,362.00 1015.0,361.62 1018.0,361.12 1021.0,360.52 1024.0,359.84 1027.0,359.10 1030.0,358.31 1033.0,357.50 1036.0,356.69 1039.0,355.91 1042.0,355.18 1045.0,354.52 1048.0,353.94 1051.0,353.47 1054.0,353.12 1057.0,352.89 1060.0,352.80 1063.0,352.85 1066.0,353.03 1069.0,353.34 1072.0,353.77 1075.0,354.32 1078.0,354.95 1081.0,355.66 1084.0,356.43 1087.0,357.23 1090.0,358.04 1093.0,358.84 1096.0,359.60 1099.0,360.31 1102.0,360.93 1105.0,361.47 1108.0,361.89 1111.0,362.19 1114.0,362.36 1117.0,362.40 1120.0,362.29 1123.0,362.06 1126.0,361.69 1129.0,361.21 1132.0,360.63 1135.0,359.96 1138.0,359.22 1141.0,358.44 1144.0,357.63 1147.0,356.83 1150.0,356.04 1153.0,355.30 1156.0,354.62 1159.0,354.03 1162.0,353.54 1165.0,353.17 1168.0,352.92 1171.0,352.81 1174.0,352.83 1177.0,352.99 1180.0,353.28 1183.0,353.69 1186.0,354.22 1189.0,354.84 1192.0,355.54 1195.0,356.30 1198.0,357.09 1201.0,357.90 1204.0,358.71 1207.0,359.48 1210.0,360.19 1213.0,360.84 1216.0,361.39 1219.0,361.83 1222.0,362.15 1225.0,362.34 1228.0,362.40 1231.0,362.32 1234.0,362.11 1237.0,361.76 1240.0,361.30 1243.0,360.73 1246.0,360.08 1249.0,359.35 1252.0,358.57 1255.0,357.77 1258.0,356.96 1261.0,356.17 1264.0,355.42 1267.0,354.73 1270.0,354.12 1273.0,353.62 1276.0,353.22 1279.0,352.95 1282.0,352.82 1285.0,352.82 1288.0,352.95 1291.0,353.22 1294.0,353.62 1297.0,354.12 1300.0,354.73 1303.0,355.42 1306.0,356.17 1309.0,356.96 1312.0,357.77 1315.0,358.57 1318.0,359.35 1321.0,360.08 1324.0,360.73 1327.0,361.30 1330.0,361.76 1333.0,362.11 1336.0,362.32 1339.0,362.40 1342.0,362.34 1345.0,362.15 1348.0,361.83 1351.0,361.39 1354.0,360.84 1357.0,360.19 1360.0,359.48 1363.0,358.71 1366.0,357.90 1369.0,357.09 1372.0,356.30 1375.0,355.54 1378.0,354.84 1381.0,354.22 1384.0,353.69 1387.0,353.28 1390.0,352.99 1393.0,352.83 1396.0,352.81 1399.0,352.92 1402.0,353.17 1405.0,353.54 1408.0,354.03 1411.0,354.62 1414.0,355.30 1417.0,356.04 1420.0,356.83 1423.0,357.63 1426.0,358.44 1429.0,359.22 1432.0,359.96 1435.0,360.63 1438.0,361.21 1441.0,361.69 1444.0,362.06 1447.0,362.29 1450.0,362.40 1453.0,362.36 1456.0,362.19 1459.0,361.89 1462.0,361.47 1465.0,360.93 1468.0,360.31 1471.0,359.60 1474.0,358.84 1477.0,358.04 1480.0,357.23 1483.0,356.43 1486.0,355.66 1489.0,354.95 1492.0,354.32 1495.0,353.77 1498.0,353.34 1501.0,353.03 1504.0,352.85 1507.0,352.80 1510.0,352.89 1513.0,353.12 1516.0,353.47 1519.0,353.94 1522.0,354.52 1525.0,355.18 1528.0,355.91 1531.0,356.69 1534.0,357.50 1537.0,358.31 1540.0,359.10 1543.0,359.84 1546.0,360.52 1549.0,361.12 1552.0,361.62 1555.0,362.00 1558.0,362.26 1561.0,362.39 1564.0,362.38 1567.0,362.23 1570.0,361.95 1573.0,361.55 1576.0,361.03 1579.0,360.42 1582.0,359.72 1585.0,358.97 1588.0,358.17 1591.0,357.36 1594.0,356.56 1597.0,355.79 1600.0,355.06 1603.0,354.42 1606.0,353.86 1609.0,353.40 1612.0,353.07 1615.0,352.87 1618.0,352.80 1621.0,352.87 1624.0,353.07 1627.0,353.40 1630.0,353.86 1633.0,354.42 1636.0,355.06 1639.0,355.79 1642.0,356.56 1645.0,357.36 1648.0,358.17 1651.0,358.97 1654.0,359.72 1657.0,360.42 1660.0,361.03 1663.0,361.55 1666.0,361.95 1669.0,362.23 1672.0,362.38 1675.0,362.39 1678.0,362.26 1681.0,362.00 1684.0,361.62 1687.0,361.12 1690.0,360.52 1693.0,359.84 1696.0,359.10 1699.0,358.31 1702.0,357.50 1705.0,356.69 1708.0,355.91 1711.0,355.18 1714.0,354.52 1717.0,353.94 1720.0,353.47 1723.0,353.12 1726.0,352.89 1729.0,352.80 1732.0,352.85 1735.0,353.03 1738.0,353.34 1741.0,353.77 1744.0,354.32 1747.0,354.95 1750.0,355.66 1753.0,356.43 1756.0,357.23 1759.0,358.04 1762.0,358.84 1765.0,359.60 1768.0,360.31 1771.0,360.93 1774.0,361.47 1777.0,361.89 1780.0,362.19 1783.0,362.36 1786.0,362.40 1789.0,362.29 1792.0,362.06 1795.0,361.69 1798.0,361.21 1801.0,360.63 1804.0,359.96 1807.0,359.22 1810.0,358.44 1813.0,357.63 1816.0,356.83 1819.0,356.04 1822.0,355.30 1825.0,354.62 1828.0,354.03 1831.0,353.54 1834.0,353.17 1837.0,352.92 1840.0,352.81 1843.0,352.83 1846.0,352.99 1849.0,353.28 1852.0,353.69 1855.0,354.22 1858.0,354.84 1861.0,355.54 1864.0,356.30 1867.0,357.09 1870.0,357.90 1873.0,358.71 1876.0,359.48 1879.0,360.19 1882.0,360.84 1885.0,361.39 1888.0,361.83 1891.0,362.15 1894.0,362.34 1897.0,362.40 1900.0,362.32 1903.0,362.11 1906.0,361.76 1909.0,361.30 1912.0,360.73 1915.0,360.08 1918.0,359.35 1921.0,358.57 1924.0,357.77 1927.0,356.96 1930.0,356.17 1933.0,355.42 1936.0,354.73 1939.0,354.12 1942.0,353.62 1945.0,353.22 1948.0,352.95 1951.0,352.82 1954.0,352.82 1957.0,352.95 1960.0,353.22 1963.0,353.62 1966.0,354.12 1969.0,354.73 1972.0,355.42 1975.0,356.17 1978.0,356.96 1981.0,357.77 1984.0,358.57 1987.0,359.35 1990.0,360.08 1993.0,360.73 1996.0,361.30 1999.0,361.76 2002.0,362.11 2005.0,362.32 2008.0,362.40 2011.0,362.34 2014.0,362.15 2017.0,361.83 2020.0,361.39 2023.0,360.84 2026.0,360.19 2029.0,359.48 2032.0,358.71 2035.0,357.90 2038.0,357.09 2041.0,356.30 2044.0,355.54 2047.0,354.84 2050.0,354.22 2053.0,353.69 2056.0,353.28 2059.0,352.99 2062.0,352.83 2065.0,352.81 2068.0,352.92 2071.0,353.17 2074.0,353.54 2077.0,354.03 2080.0,354.62 2083.0,355.30 2086.0,356.04 2089.0,356.83 2092.0,357.63 2095.0,358.44 2098.0,359.22 2101.0,359.96 2104.0,360.63 2107.0,361.21 2110.0,361.69 2113.0,362.06 2116.0,362.29 2119.0,362.40 2122.0,362.36 2125.0,362.19 2128.0,361.89 2131.0,361.47 2134.0,360.93 2137.0,360.31 2140.0,359.60 2143.0,358.84 2146.0,358.04 2149.0,357.23 2152.0,356.43 2155.0,355.66 2158.0,354.95 2161.0,354.32 2164.0,353.77 2167.0,353.34 2170.0,353.03 2173.0,352.85 2176.0,352.80 2179.0,352.89 2182.0,353.12"/>
</g>
<rect x="393.0" y="299.8" width="1785.0" height="65.09999999999997" fill="none" stroke="#000000" stroke-width="3"/>
<rect x="1174" y="290.6" width="66" height="83.7" fill="#000000"/>
<rect x="1175.5" y="286" width="3.4" height="92" fill="#000000"/>
<rect x="1235.2" y="286" width="3.4" height="92" fill="#000000"/>
<rect x="2178.3" y="287" width="76.6" height="91.2" fill="#000000"/>
<text transform="translate(681.26,430.00) scale(0.9282,1)" font-size="31.98" fill="#1D1D1B">ACCESO</text>
<text transform="translate(653.79,468.60) scale(0.9419,1)" font-size="31.98" fill="#1D1D1B">MADRID RÍO</text>
<text transform="translate(1685.96,429.80) scale(0.9237,1)" font-size="31.98" fill="#1D1D1B">ACCESO</text>
<text transform="translate(1597.71,468.00) scale(0.9291,1)" font-size="31.98" fill="#1D1D1B">NAVE DE TERNERAS</text>
<path fill="none" stroke="#000000" stroke-width="5" stroke-linejoin="miter" stroke-miterlimit="10" d="M708,523 V506.5 H408"/>
<path fill="none" stroke="#000000" stroke-width="5.6" stroke-linejoin="miter" d="M410.5,506.5 H408 L323.5,1204.5 L349,1223.5 L360.6,1212.8"/>
<path fill="none" stroke="#000000" stroke-width="5" stroke-linejoin="miter" stroke-miterlimit="10" d="M396.9,598 H525.2 V1066.5 H490"/>
<rect x="550.5" y="506.5" width="137.5" height="246.5" fill="none" stroke="#000000" stroke-width="5" stroke-linejoin="miter" stroke-miterlimit="10"/>
<path fill="none" stroke="#000000" stroke-width="5" stroke-linejoin="miter" stroke-miterlimit="10" d="M779.5,523 V506.5 H1706.6"/>
<rect x="794.5" y="506.5" width="396" height="246.5" fill="none" stroke="#000000" stroke-width="5" stroke-linejoin="miter" stroke-miterlimit="10"/>
<rect x="1215.2" y="506.5" width="179.7" height="247" fill="none" stroke="#000000" stroke-width="5" stroke-linejoin="miter" stroke-miterlimit="10"/>
<rect x="1399.9" y="506.5" width="179.4" height="247" fill="none" stroke="#000000" stroke-width="5" stroke-linejoin="miter" stroke-miterlimit="10"/>
<rect x="1604.3" y="506.5" width="102.3" height="247" fill="none" stroke="#000000" stroke-width="5" stroke-linejoin="miter" stroke-miterlimit="10"/>
<path fill="none" stroke="#000000" stroke-width="4.8" stroke-linecap="butt" stroke-linejoin="miter" d="M745.0,489.8 L745.0,528.0"/>
<path fill="none" stroke="#000000" stroke-width="4.8" stroke-linecap="butt" stroke-linejoin="miter" d="M731.8,516.8 L745.0,530.0 L758.2,516.8"/>
<path fill="none" stroke="#000000" stroke-width="4.8" stroke-linecap="butt" stroke-linejoin="miter" d="M1749.2,495.0 L1749.2,669.9"/>
<path fill="none" stroke="#000000" stroke-width="4.8" stroke-linecap="butt" stroke-linejoin="miter" d="M1735.6,658.3 L1749.2,671.9 L1762.8,658.3"/>
<rect x="1801.5" y="658.1" width="208.9" height="87.9" fill="none" stroke="#000000" stroke-width="5" stroke-linejoin="miter" stroke-miterlimit="10"/>
<text transform="translate(1847.89,694.15) scale(1.0080,1)" font-size="24.56" fill="#000000" stroke="#000000" stroke-width="2.10" stroke-linejoin="round" vector-effect="non-scaling-stroke" letter-spacing="1.122" word-spacing="-1.122">NAVE DE</text>
<text transform="translate(1833.27,721.45) scale(1.0324,1)" font-size="24.56" fill="#000000" stroke="#000000" stroke-width="2.10" stroke-linejoin="round" vector-effect="non-scaling-stroke" letter-spacing="1.007" word-spacing="-1.007">TERNERAS</text>
<path fill="none" stroke="#000000" stroke-width="4.8" stroke-linecap="butt" stroke-linejoin="miter" d="M1752.7,807.5 L1712.0,807.5"/>
<path fill="none" stroke="#000000" stroke-width="4.8" stroke-linecap="butt" stroke-linejoin="miter" d="M1722.8,794.7 L1710.0,807.5 L1722.8,820.3"/>
<rect x="550.4" y="971" width="137.6" height="87.2" fill="#574193"/>
<rect x="550.4" y="789.5" width="137.6" height="353" fill="none" stroke="#000000" stroke-width="5" stroke-linejoin="miter" stroke-miterlimit="10"/>
<path fill="none" stroke="#000000" stroke-width="5" stroke-linejoin="miter" stroke-miterlimit="10" d="M550.4,971 H688 M550.4,1058.2 H688"/>
<rect x="794.5" y="909" width="321.9" height="217.2" fill="none" stroke="#000000" stroke-width="5" stroke-linejoin="miter" stroke-miterlimit="10"/>
<path fill="none" stroke="#000000" stroke-width="5" stroke-linejoin="miter" stroke-miterlimit="10" d="M955.5,909 V1126.2"/>
<rect x="1120.6" y="958.4" width="134.9" height="167.8" fill="#574193" stroke="#1D1D1B" stroke-width="4.6"/>
<rect x="1268.3" y="893.5" width="223.8" height="235.6" rx="25" fill="#FFFFFF" fill-opacity="0.55"/>
<path fill="#574193" d="M1508,859.7 H1583.9 V871 H1626.3 V859.7 H1635.6 V1131.7 H1626.3 V1121.6 H1583.9 V1131.7 H1575.3 V1002.3 H1508 Z"/>
<path fill="none" stroke="#000000" stroke-width="5" stroke-linejoin="miter" stroke-miterlimit="10" d="M1505.5,857.2 H1583.9 V868.8 H1626.3 V857.2 H1704 V1134.2 H1626.3 V1124 H1583.9 V1134.2 H1505.5 Z"/>
<path fill="none" stroke="#000000" stroke-width="5" stroke-linejoin="miter" stroke-miterlimit="10" d="M1638,857.2 V1134.2 M1505.5,999.8 H1572.8 V1134.2"/>
<rect x="682.8" y="1257.6" width="163.2" height="145.3" fill="#574193"/>
<rect x="581.8" y="1257.6" width="264.2" height="145.3" fill="none" stroke="#000000" stroke-width="5" stroke-linejoin="miter" stroke-miterlimit="10"/>
<path fill="none" stroke="#000000" stroke-width="5" stroke-linejoin="miter" stroke-miterlimit="10" d="M682.8,1257.6 V1402.9"/>
<path fill="#574193" d="M870.8,1257.6 H1211 V1301.2 H1022.7 V1403 H870.8 Z"/>
<rect x="870.8" y="1257.6" width="340.2" height="145.4" fill="none" stroke="#000000" stroke-width="5" stroke-linejoin="miter" stroke-miterlimit="10"/>
<path fill="none" stroke="#000000" stroke-width="5" stroke-linejoin="miter" stroke-miterlimit="10" d="M1022.7,1403 V1301.2 H1211"/>
<rect x="1464.4" y="1258.2" width="151.8" height="144.6" fill="#574193"/>
<rect x="1278.6" y="1258.2" width="337.6" height="144.6" fill="none" stroke="#000000" stroke-width="5" stroke-linejoin="miter" stroke-miterlimit="10"/>
<path fill="none" stroke="#000000" stroke-width="5" stroke-linejoin="miter" stroke-miterlimit="10" d="M1464.4,1258.2 V1402.8"/>
<rect x="1639.3" y="1258.2" width="126.2" height="144.6" fill="#574193" stroke="#000000" stroke-width="5"/>
<path fill="none" stroke="#000000" stroke-width="3.1" stroke-linejoin="miter" d="M468.1,1404.3 L455.7,1413.4 L483.2,1475.3 H1217.7 V1458.1"/>
<path fill="none" stroke="#000000" stroke-width="3.1" stroke-linejoin="miter" d="M1271.6,1458.1 V1475.3 H1955.4 V1458.2"/>
<path fill="none" stroke="#000000" stroke-width="3.1" stroke-linejoin="miter" d="M2005.6,1458.2 V1475.3 H2216"/>
<path fill="none" stroke="#000000" stroke-width="4.8" stroke-linecap="butt" stroke-linejoin="miter" d="M1244.5,1505.1 L1244.5,1468.0"/>
<path fill="none" stroke="#000000" stroke-width="4.8" stroke-linecap="butt" stroke-linejoin="miter" d="M1257.7,1479.2 L1244.5,1466.0 L1231.3,1479.2"/>
<path fill="none" stroke="#000000" stroke-width="4.8" stroke-linecap="butt" stroke-linejoin="miter" d="M1759.5,1197.6 L1719.3,1197.6"/>
<path fill="none" stroke="#000000" stroke-width="4.8" stroke-linecap="butt" stroke-linejoin="miter" d="M1730.1,1184.8 L1717.3,1197.6 L1730.1,1210.4"/>
<path fill="none" stroke="#000000" stroke-width="4.8" stroke-linecap="butt" stroke-linejoin="miter" d="M398.5,1327.2 L426,1299.7"/><path fill="none" stroke="#000000" stroke-width="4.8" stroke-linecap="butt" stroke-linejoin="miter" d="M408.9,1298.6 H427.2 V1317.4"/>
<path fill="none" stroke="#000000" stroke-width="4.8" stroke-linecap="butt" stroke-linejoin="miter" d="M2041.9,1528.1 L2013.6,1500.7"/><path fill="none" stroke="#000000" stroke-width="4.8" stroke-linecap="butt" stroke-linejoin="miter" d="M2012.4,1517.7 V1499.5 H2031.5"/>
<path stroke="#1D1D1B" stroke-width="5" fill="none" d="M495,1014 H619.4"/>
<path stroke="#1D1D1B" stroke-width="5" fill="none" d="M1184.5,875 V1074.6"/>
<path stroke="#1D1D1B" stroke-width="5" fill="none" d="M1572.1,932.6 H1852"/>
<path stroke="#1D1D1B" stroke-width="5" fill="none" d="M764.5,1331 L444,1507.5"/>
<path stroke="#1D1D1B" stroke-width="5" fill="none" d="M946.5,1330.5 V1508"/>
<path stroke="#1D1D1B" stroke-width="5" fill="none" d="M1539.3,1330.5 V1510"/>
<path stroke="#1D1D1B" stroke-width="5" fill="none" d="M1702.9,1330.5 H1852"/>
<circle cx="619.4" cy="1014" r="15.1" fill="#FDF8EE"/>
<circle cx="1184.3" cy="1074.6" r="15.1" fill="#FDF8EE"/>
<circle cx="1572.1" cy="932.6" r="15.1" fill="#FDF8EE"/>
<circle cx="764.5" cy="1330.5" r="15.1" fill="#FDF8EE"/>
<circle cx="946.5" cy="1330.5" r="15.1" fill="#FDF8EE"/>
<circle cx="1538.3" cy="1330.5" r="15.1" fill="#FDF8EE"/>
<circle cx="1702.9" cy="1330.5" r="15.1" fill="#FDF8EE"/>
<rect x="1066.25" y="726.65" width="236.50" height="150.50" rx="18" fill="#574193" stroke="#1D1D1B" stroke-width="3.3"/>
<rect x="134.75" y="928.55" width="364.40" height="172.30" rx="22.5" fill="#574193" stroke="#1D1D1B" stroke-width="3.3"/>
<rect x="1851.45" y="845.85" width="363.40" height="173.10" rx="22.5" fill="#574193" stroke="#1D1D1B" stroke-width="3.3"/>
<rect x="1851.05" y="1243.85" width="395.10" height="173.50" rx="22.5" fill="#574193" stroke="#1D1D1B" stroke-width="3.3"/>
<rect x="134.75" y="1507.75" width="405.20" height="194.10" rx="22.5" fill="#574193" stroke="#1D1D1B" stroke-width="3.3"/>
<rect x="617.35" y="1507.75" width="405.00" height="194.10" rx="22.5" fill="#574193" stroke="#1D1D1B" stroke-width="3.3"/>
<rect x="1441.05" y="1509.65" width="424.20" height="163.50" rx="22.5" fill="#574193" stroke="#1D1D1B" stroke-width="3.3"/>
<rect x="1119.3" y="1629" width="250.9" height="73.2" rx="24" fill="none" stroke="#1D1D1B" stroke-width="3"/>
<text transform="translate(1090.15,803.10) scale(0.9776,1)" font-size="42.01" fill="#FFFFFF" stroke="#FFFFFF" stroke-width="2.80" stroke-linejoin="round" vector-effect="non-scaling-stroke" letter-spacing="2.967" word-spacing="-2.967">NAVE 12</text>
<text transform="translate(1127.57,839.70) scale(0.9062,1)" font-size="18.60" fill="#FDF8EE">NETWORKING</text>
<text transform="translate(1144.75,857.70) scale(0.9236,1)" font-size="18.60" fill="#FDF8EE">EVENTOS</text>
<text transform="translate(1917.04,893.40) scale(0.9523,1)" font-size="42.44" fill="#FFFFFF" stroke="#FFFFFF" stroke-width="2.80" stroke-linejoin="round" vector-effect="non-scaling-stroke" letter-spacing="3.100" word-spacing="-3.100">CASA DEL</text>
<text transform="translate(1938.19,938.60) scale(0.9536,1)" font-size="42.44" fill="#FFFFFF" stroke="#FFFFFF" stroke-width="2.80" stroke-linejoin="round" vector-effect="non-scaling-stroke" letter-spacing="2.970" word-spacing="-2.970">LECTOR</text>
<text transform="translate(1895.05,968.40) scale(0.9423,1)" font-size="18.31" fill="#FDF8EE">MEDIA CENTER INTERNACIONAL</text>
<text transform="translate(1917.61,986.50) scale(0.9196,1)" font-size="18.31" fill="#FDF8EE">TALLER DE SHOWRUNNERS</text>
<text transform="translate(2004.97,1004.50) scale(0.9417,1)" font-size="18.31" fill="#FDF8EE">AULAS</text>
<text transform="translate(197.34,1002.60) scale(0.9168,1)" font-size="43.31" fill="#FFFFFF" stroke="#FFFFFF" stroke-width="2.80" stroke-linejoin="round" vector-effect="non-scaling-stroke" letter-spacing="2.912" word-spacing="-2.912">EL TALLER</text>
<text transform="translate(244.99,1038.10) scale(0.9283,1)" font-size="18.60" fill="#FDF8EE">CONFERENCIAS</text>
<text transform="translate(234.47,1056.50) scale(0.9298,1)" font-size="18.60" fill="#FDF8EE">ACTIVIDADES PRO</text>
<text transform="translate(201.51,1074.10) scale(0.9098,1)" font-size="18.60" fill="#FDF8EE">TALLERES DE FORMACIÓN</text>
<text transform="translate(1319.77,1016.10) scale(1.0438,1)" font-size="33.43" fill="#000000" stroke="#000000" stroke-width="2.20" stroke-linejoin="round" vector-effect="non-scaling-stroke" letter-spacing="1.425" word-spacing="-1.425">PLAZA</text>
<text transform="translate(1280.08,1051.60) scale(1.0008,1)" font-size="33.14" fill="#000000" stroke="#000000" stroke-width="2.20" stroke-linejoin="round" vector-effect="non-scaling-stroke" letter-spacing="1.412" word-spacing="-1.412">MATADERO</text>
<text transform="translate(1322.68,1085.40) scale(0.9398,1)" font-size="17.88" fill="#000000">NETWORKING</text>
<text transform="translate(1287.17,1103.30) scale(0.9417,1)" font-size="17.88" fill="#000000">FOOD &amp; DRINKS AREA</text>
<text transform="translate(1825.36,1203.20) scale(0.9506,1)" font-size="31.11" fill="#1D1D1B">ACCESO CASA DEL RELOJ</text>
<polygon points="6.4,1361.3 101.3,1304.4 196.2,1361.3 101.3,1418.5" fill="#000000"/>
<polygon points="44.9,1361.3 101.3,1327.4 157.7,1361.3 101.3,1395.4" fill="#FDF8EE"/>
<text transform="translate(68.18,1367.90) scale(1.0104,1)" font-size="23.98" fill="#000000" stroke="#000000" stroke-width="0.20" stroke-linejoin="round" vector-effect="non-scaling-stroke">Metro</text>
<text transform="translate(249.26,1361.30) scale(0.9446,1)" font-size="31.40" fill="#1D1D1B">ACCESO</text>
<text transform="translate(236.98,1399.70) scale(0.9613,1)" font-size="31.40" fill="#1D1D1B">PLAZA DE</text>
<text transform="translate(247.18,1438.20) scale(0.9632,1)" font-size="31.40" fill="#1D1D1B">LEGAZPI</text>
<text transform="translate(592.53,1356.35) scale(1.0274,1)" font-size="17.15" fill="#000000" stroke="#000000" stroke-width="0.90" stroke-linejoin="round" vector-effect="non-scaling-stroke">CANTINA</text>
<text transform="translate(1920.56,1313.60) scale(0.9798,1)" font-size="42.44" fill="#FFFFFF" stroke="#FFFFFF" stroke-width="2.80" stroke-linejoin="round" vector-effect="non-scaling-stroke" letter-spacing="2.558" word-spacing="-2.558">AUDITORIO</text>
<text transform="translate(1863.40,1351.60) scale(0.9179,1)" font-size="18.60" fill="#FDF8EE">CONFERENCIAS, KEYNOTES Y SPOTLIGHTS</text>
<text transform="translate(1931.31,1371.10) scale(0.9060,1)" font-size="18.60" fill="#FDF8EE">TALLER DE SHOWRUNNERS</text>
<text transform="translate(2018.87,1390.10) scale(0.9238,1)" font-size="18.60" fill="#FDF8EE">AULAS</text>
<text transform="translate(221.98,1589.30) scale(0.9939,1)" font-size="42.15" fill="#FFFFFF" stroke="#FFFFFF" stroke-width="2.80" stroke-linejoin="round" vector-effect="non-scaling-stroke" letter-spacing="2.641" word-spacing="-2.641">CINETECA</text>
<text transform="translate(198.71,1642.50) scale(0.9222,1)" font-size="18.31" fill="#FDF8EE">SALAS AZCONA, BORAU, PLATÓ</text>
<text transform="translate(256.85,1660.60) scale(0.9398,1)" font-size="18.31" fill="#FDF8EE">IBERSCREENINGS</text>
<text transform="translate(149.50,1678.70) scale(0.9325,1)" font-size="18.31" fill="#FDF8EE">CONFERENCIAS, KEYNOTES Y SPOTLIGHTS</text>
<text transform="translate(678.34,1563.50) scale(0.9623,1)" font-size="42.15" fill="#FFFFFF" stroke="#FFFFFF" stroke-width="2.80" stroke-linejoin="round" vector-effect="non-scaling-stroke" letter-spacing="2.916" word-spacing="-2.916">CENTRAL DE</text>
<text transform="translate(733.62,1608.20) scale(1.0268,1)" font-size="40.41" fill="#FFFFFF" stroke="#FFFFFF" stroke-width="2.80" stroke-linejoin="round" vector-effect="non-scaling-stroke" letter-spacing="2.618" word-spacing="-2.618">DISEÑO</text>
<text transform="translate(669.76,1642.50) scale(0.9291,1)" font-size="18.31" fill="#FDF8EE">INFORMACIÓN Y ACREDITACIONES</text>
<text transform="translate(633.46,1660.60) scale(0.9304,1)" font-size="18.31" fill="#FDF8EE">FORO DE COPRODUCCIÓN Y FINANCIACIÓN</text>
<text transform="translate(633.46,1678.70) scale(0.9276,1)" font-size="18.31" fill="#FDF8EE">PITCH DE PLATAFORMAS Y PRODUCTORAS</text>
<text transform="translate(1127.17,1559.20) scale(0.9064,1)" font-size="32.27" fill="#1D1D1B">ACCESO PASEO</text>
<text transform="translate(1101.93,1597.30) scale(0.9136,1)" font-size="32.27" fill="#1D1D1B">DE LA CHOPERA 14</text>
<text transform="translate(1158.69,1659.80) scale(0.8932,1)" font-size="18.60" fill="#1D1D1B">ENTRADA PRINCIPAL</text>
<text transform="translate(1186.68,1684.20) scale(0.9263,1)" font-size="18.02" fill="#1D1D1B">INFORMACIÓN</text>
<text transform="translate(1534.07,1571.30) scale(0.9735,1)" font-size="41.86" fill="#FFFFFF" stroke="#FFFFFF" stroke-width="2.80" stroke-linejoin="round" vector-effect="non-scaling-stroke" letter-spacing="3.112" word-spacing="-3.112">NAVE UNA</text>
<text transform="translate(1448.74,1611.70) scale(0.9379,1)" font-size="18.46" fill="#FDF8EE">MAI - MERCADO AUDIOVISUAL INTERNACIONAL</text>
<text transform="translate(1578.45,1630.00) scale(0.9273,1)" font-size="18.46" fill="#FDF8EE">BUYERS LOUNGE</text>
<text transform="translate(2033.16,1558.70) scale(0.9196,1)" font-size="32.12" fill="#1D1D1B">ACCESO</text>
<text transform="translate(2045.46,1597.00) scale(0.9049,1)" font-size="32.12" fill="#1D1D1B">PASEO</text>
<text transform="translate(2051.91,1635.40) scale(0.9275,1)" font-size="32.12" fill="#1D1D1B">DE LA</text>
<text transform="translate(2008.46,1674.40) scale(0.9392,1)" font-size="32.12" fill="#1D1D1B">CHOPERA 6</text>
<g transform="translate(1028.05,1064.80)" fill="#000000" stroke="none"><circle cx="13.1" cy="10.45" r="3.5"/><path d="M6.55,15 H19.45 A1.6,1.6 0 0 1 21.06,16.6 V19.05 H4.95 V16.6 A1.6,1.6 0 0 1 6.55,15 Z"/><path d="M4.95,18 H7.88 V29.35 A1.465,1.465 0 0 1 4.95,29.35 Z M18.13,18 H21.06 V29.35 A1.465,1.465 0 0 1 18.13,29.35 Z"/><rect x="8.97" y="15" width="8.06" height="16.6"/><path d="M8.97,31 H12.09 V46.05 A1.56,1.56 0 0 1 8.97,46.05 Z M13.92,31 H17.03 V46.05 A1.555,1.555 0 0 1 13.92,46.05 Z"/><circle cx="35.35" cy="10.45" r="3.5"/><path d="M31.2,15 H39.5 L43.9,27.2 A1.4,1.4 0 0 1 41.3,28.2 L38.4,20.2 L42.9,33.7 H39.2 V46.2 A1.55,1.55 0 0 1 36.1,46.2 V33.7 H34.2 V46.2 A1.55,1.55 0 0 1 31.1,46.2 V33.7 H27.8 L32.3,20.2 L29.4,28.2 A1.4,1.4 0 0 1 26.8,27.2 Z"/><circle cx="56.95" cy="17.95" r="3.1"/><path d="M55.5,22.3 H57.9 A1.4,1.4 0 0 1 59.3,23.7 V27.1 H65.2 A1.1,1.1 0 0 1 65.2,29.3 H59.3 V32.2 H67 A1.2,1.2 0 0 1 68.1,32.9 L73.9,42.3 A1.5,1.5 0 0 1 71.3,43.8 L66.3,35.9 H56 A1.9,1.9 0 0 1 54.1,34 V23.7 A1.4,1.4 0 0 1 55.5,22.3 Z"/><path d="M53.5,29.9 A8.7,8.7 0 1 0 66.3,37.6" fill="none" stroke="#000" stroke-width="2.8"/></g>
<g transform="translate(557.80,1082.20)" fill="#000000" stroke="none"><circle cx="13.1" cy="10.45" r="3.5"/><path d="M6.55,15 H19.45 A1.6,1.6 0 0 1 21.06,16.6 V19.05 H4.95 V16.6 A1.6,1.6 0 0 1 6.55,15 Z"/><path d="M4.95,18 H7.88 V29.35 A1.465,1.465 0 0 1 4.95,29.35 Z M18.13,18 H21.06 V29.35 A1.465,1.465 0 0 1 18.13,29.35 Z"/><rect x="8.97" y="15" width="8.06" height="16.6"/><path d="M8.97,31 H12.09 V46.05 A1.56,1.56 0 0 1 8.97,46.05 Z M13.92,31 H17.03 V46.05 A1.555,1.555 0 0 1 13.92,46.05 Z"/><circle cx="35.35" cy="10.45" r="3.5"/><path d="M31.2,15 H39.5 L43.9,27.2 A1.4,1.4 0 0 1 41.3,28.2 L38.4,20.2 L42.9,33.7 H39.2 V46.2 A1.55,1.55 0 0 1 36.1,46.2 V33.7 H34.2 V46.2 A1.55,1.55 0 0 1 31.1,46.2 V33.7 H27.8 L32.3,20.2 L29.4,28.2 A1.4,1.4 0 0 1 26.8,27.2 Z"/><circle cx="56.95" cy="17.95" r="3.1"/><path d="M55.5,22.3 H57.9 A1.4,1.4 0 0 1 59.3,23.7 V27.1 H65.2 A1.1,1.1 0 0 1 65.2,29.3 H59.3 V32.2 H67 A1.2,1.2 0 0 1 68.1,32.9 L73.9,42.3 A1.5,1.5 0 0 1 71.3,43.8 L66.3,35.9 H56 A1.9,1.9 0 0 1 54.1,34 V23.7 A1.4,1.4 0 0 1 55.5,22.3 Z"/><path d="M53.5,29.9 A8.7,8.7 0 1 0 66.3,37.6" fill="none" stroke="#000" stroke-width="2.8"/></g>
<g transform="translate(1286.00,1342.50)" fill="#000000" stroke="none"><circle cx="13.1" cy="10.45" r="3.5"/><path d="M6.55,15 H19.45 A1.6,1.6 0 0 1 21.06,16.6 V19.05 H4.95 V16.6 A1.6,1.6 0 0 1 6.55,15 Z"/><path d="M4.95,18 H7.88 V29.35 A1.465,1.465 0 0 1 4.95,29.35 Z M18.13,18 H21.06 V29.35 A1.465,1.465 0 0 1 18.13,29.35 Z"/><rect x="8.97" y="15" width="8.06" height="16.6"/><path d="M8.97,31 H12.09 V46.05 A1.56,1.56 0 0 1 8.97,46.05 Z M13.92,31 H17.03 V46.05 A1.555,1.555 0 0 1 13.92,46.05 Z"/><circle cx="35.35" cy="10.45" r="3.5"/><path d="M31.2,15 H39.5 L43.9,27.2 A1.4,1.4 0 0 1 41.3,28.2 L38.4,20.2 L42.9,33.7 H39.2 V46.2 A1.55,1.55 0 0 1 36.1,46.2 V33.7 H34.2 V46.2 A1.55,1.55 0 0 1 31.1,46.2 V33.7 H27.8 L32.3,20.2 L29.4,28.2 A1.4,1.4 0 0 1 26.8,27.2 Z"/><circle cx="56.95" cy="17.95" r="3.1"/><path d="M55.5,22.3 H57.9 A1.4,1.4 0 0 1 59.3,23.7 V27.1 H65.2 A1.1,1.1 0 0 1 65.2,29.3 H59.3 V32.2 H67 A1.2,1.2 0 0 1 68.1,32.9 L73.9,42.3 A1.5,1.5 0 0 1 71.3,43.8 L66.3,35.9 H56 A1.9,1.9 0 0 1 54.1,34 V23.7 A1.4,1.4 0 0 1 55.5,22.3 Z"/><path d="M53.5,29.9 A8.7,8.7 0 1 0 66.3,37.6" fill="none" stroke="#000" stroke-width="2.8"/></g>
<g transform="translate(605,1285)" fill="#000000"><path d="M12.5,24.7 H38.5 A7.9,7.9 0 0 1 46.3,32 A7,7 0 0 1 38.6,38.6 L35.1,43.4 H15.3 C12.2,40.5 10.9,37 10.9,33 V26.3 A1.6,1.6 0 0 1 12.5,24.7 Z M38.8,28.6 V34.8 A3.1,3.1 0 0 0 38.8,28.6 Z" fill-rule="evenodd"/><rect x="9.75" y="43.2" width="30.25" height="3.6" rx="1.8"/><path d="M20.5,8.3 C17.5,10.2 17,13.5 19.6,16 C21.2,17.4 22.4,18.2 22.4,19.5 M28.9,8.3 C25.9,10.2 25.4,13.5 28,16 C29.6,17.4 30.8,18.2 30.8,19.5" fill="none" stroke="#000" stroke-width="3.1" stroke-linecap="round"/></g>
<g transform="translate(1345,910)" fill="#000000"><path d="M9.6,14.2 H59.3 A1.3,1.3 0 0 1 60.2,16.5 L35.3,39.8 V63.6 L46.1,68.4 A0.7,0.7 0 0 1 45.8,69.8 H20.2 A0.7,0.7 0 0 1 19.9,68.4 L31.3,63.6 V39.8 L8.7,16.5 A1.3,1.3 0 0 1 9.6,14.2 Z"/><path d="M50.3,15.5 L56,10 C57,8.7 58,8.2 59.6,8.2 H67" fill="none" stroke="#000" stroke-width="3.8" stroke-linecap="round"/></g>
<circle cx="1244.6" cy="1325.1" r="21.9" fill="#000000"/>
<g transform="translate(1218,1298)" fill="#FDF8EE"><circle cx="26.2" cy="17.4" r="3.35"/><path d="M22,22 H29.8 V35.1 H31.1 V39.1 H22 V35.1 H23.8 V24.6 H22 Z"/></g>
</svg>
</body></html>
